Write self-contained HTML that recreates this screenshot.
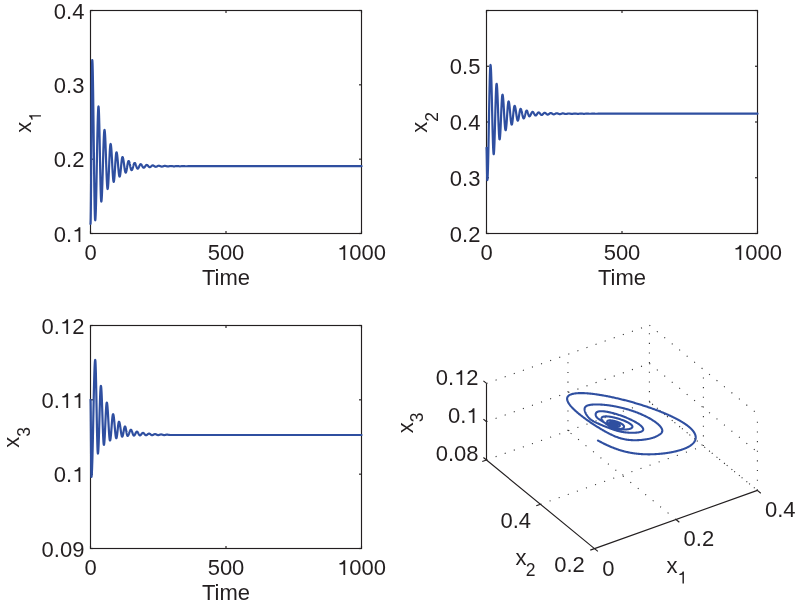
<!DOCTYPE html>
<html><head><meta charset="utf-8"><style>
html,body{margin:0;padding:0;background:#fff;}
body{width:795px;height:605px;overflow:hidden;}
svg{display:block;will-change:transform;}
</style></head><body>
<svg width="795" height="605" viewBox="0 0 795 605">
<rect width="795" height="605" fill="#fff"/>
<g stroke="#231f20" stroke-width="1.15" fill="none">
<line x1="90.5" y1="233.50000000000006" x2="93.0" y2="233.50000000000006"/>
<line x1="361.5" y1="233.50000000000006" x2="359.0" y2="233.50000000000006"/>
<line x1="90.5" y1="159.16666666666669" x2="93.0" y2="159.16666666666669"/>
<line x1="361.5" y1="159.16666666666669" x2="359.0" y2="159.16666666666669"/>
<line x1="90.5" y1="84.83333333333337" x2="93.0" y2="84.83333333333337"/>
<line x1="361.5" y1="84.83333333333337" x2="359.0" y2="84.83333333333337"/>
<line x1="90.5" y1="10.5" x2="93.0" y2="10.5"/>
<line x1="361.5" y1="10.5" x2="359.0" y2="10.5"/>
<line x1="90.5" y1="233.5" x2="90.5" y2="231.0"/>
<line x1="90.5" y1="10.5" x2="90.5" y2="13.0"/>
<line x1="226.0" y1="233.5" x2="226.0" y2="231.0"/>
<line x1="226.0" y1="10.5" x2="226.0" y2="13.0"/>
<line x1="361.5" y1="233.5" x2="361.5" y2="231.0"/>
<line x1="361.5" y1="10.5" x2="361.5" y2="13.0"/>
<rect x="90.5" y="10.5" width="271.0" height="223.0" fill="none"/>
<line x1="486.5" y1="233.49999999999997" x2="489.0" y2="233.49999999999997"/>
<line x1="757.5" y1="233.49999999999997" x2="755.0" y2="233.49999999999997"/>
<line x1="486.5" y1="177.74999999999997" x2="489.0" y2="177.74999999999997"/>
<line x1="757.5" y1="177.74999999999997" x2="755.0" y2="177.74999999999997"/>
<line x1="486.5" y1="121.99999999999997" x2="489.0" y2="121.99999999999997"/>
<line x1="757.5" y1="121.99999999999997" x2="755.0" y2="121.99999999999997"/>
<line x1="486.5" y1="66.24999999999999" x2="489.0" y2="66.24999999999999"/>
<line x1="757.5" y1="66.24999999999999" x2="755.0" y2="66.24999999999999"/>
<line x1="486.5" y1="10.5" x2="489.0" y2="10.5"/>
<line x1="757.5" y1="10.5" x2="755.0" y2="10.5"/>
<line x1="486.5" y1="233.5" x2="486.5" y2="231.0"/>
<line x1="486.5" y1="10.5" x2="486.5" y2="13.0"/>
<line x1="622.0" y1="233.5" x2="622.0" y2="231.0"/>
<line x1="622.0" y1="10.5" x2="622.0" y2="13.0"/>
<line x1="757.5" y1="233.5" x2="757.5" y2="231.0"/>
<line x1="757.5" y1="10.5" x2="757.5" y2="13.0"/>
<rect x="486.5" y="10.5" width="271.0" height="223.0" fill="none"/>
<line x1="90.5" y1="548.5" x2="93.0" y2="548.5"/>
<line x1="361.5" y1="548.5" x2="359.0" y2="548.5"/>
<line x1="90.5" y1="474.16666666666663" x2="93.0" y2="474.16666666666663"/>
<line x1="361.5" y1="474.16666666666663" x2="359.0" y2="474.16666666666663"/>
<line x1="90.5" y1="399.8333333333333" x2="93.0" y2="399.8333333333333"/>
<line x1="361.5" y1="399.8333333333333" x2="359.0" y2="399.8333333333333"/>
<line x1="90.5" y1="325.5" x2="93.0" y2="325.5"/>
<line x1="361.5" y1="325.5" x2="359.0" y2="325.5"/>
<line x1="90.5" y1="548.5" x2="90.5" y2="546.0"/>
<line x1="90.5" y1="325.5" x2="90.5" y2="328.0"/>
<line x1="226.0" y1="548.5" x2="226.0" y2="546.0"/>
<line x1="226.0" y1="325.5" x2="226.0" y2="328.0"/>
<line x1="361.5" y1="548.5" x2="361.5" y2="546.0"/>
<line x1="361.5" y1="325.5" x2="361.5" y2="328.0"/>
<rect x="90.5" y="325.5" width="271.0" height="223.0" fill="none"/>
</g>
<g stroke="#2f4fa0" stroke-width="2.2" fill="none" stroke-linejoin="round" stroke-linecap="round">
<path d="M90.50 223.80L90.54 223.55L90.59 222.79L90.63 221.54L90.67 219.79L90.72 217.57L90.76 214.87L90.81 211.73L90.85 208.16L90.89 204.18L90.94 199.81L90.98 195.09L91.03 190.04L91.07 184.69L91.11 179.08L91.16 173.24L91.20 167.21L91.24 161.02L91.29 154.71L91.33 148.33L91.38 141.90L91.42 135.47L91.46 129.09L91.51 122.78L91.55 116.59L91.59 110.56L91.64 104.72L91.68 99.11L91.72 93.76L91.77 88.71L91.81 83.99L91.86 79.62L91.90 75.64L91.94 72.07L91.99 68.93L92.03 66.23L92.08 64.01L92.12 62.26L92.16 61.01L92.21 60.25L92.25 60.00L92.32 60.25L92.40 60.99L92.47 62.21L92.55 63.92L92.62 66.10L92.69 68.74L92.77 71.81L92.84 75.31L92.91 79.20L92.99 83.48L93.06 88.10L93.14 93.04L93.21 98.27L93.28 103.76L93.36 109.48L93.43 115.38L93.50 121.44L93.58 127.61L93.65 133.86L93.72 140.15L93.80 146.44L93.87 152.69L93.95 158.86L94.02 164.92L94.09 170.82L94.17 176.54L94.24 182.03L94.31 187.26L94.39 192.20L94.46 196.82L94.54 201.10L94.61 204.99L94.68 208.49L94.76 211.56L94.83 214.20L94.91 216.38L94.98 218.09L95.05 219.31L95.13 220.05L95.20 220.30L95.28 220.12L95.37 219.60L95.45 218.73L95.53 217.52L95.61 215.97L95.70 214.10L95.78 211.92L95.86 209.43L95.94 206.67L96.03 203.63L96.11 200.35L96.19 196.84L96.27 193.13L96.36 189.23L96.44 185.17L96.52 180.98L96.60 176.68L96.69 172.30L96.77 167.86L96.85 163.40L96.93 158.94L97.02 154.50L97.10 150.12L97.18 145.82L97.26 141.63L97.34 137.57L97.43 133.67L97.51 129.96L97.59 126.45L97.67 123.17L97.76 120.13L97.84 117.37L97.92 114.88L98.00 112.70L98.09 110.83L98.17 109.28L98.25 108.07L98.33 107.20L98.42 106.68L98.50 106.50L98.57 106.65L98.64 107.08L98.71 107.81L98.78 108.82L98.85 110.12L98.92 111.68L98.99 113.50L99.06 115.57L99.13 117.88L99.20 120.41L99.27 123.15L99.34 126.08L99.41 129.18L99.48 132.44L99.55 135.82L99.62 139.32L99.69 142.91L99.76 146.57L99.83 150.27L99.90 154.00L99.97 157.73L100.04 161.43L100.11 165.09L100.18 168.68L100.25 172.18L100.32 175.56L100.39 178.82L100.46 181.92L100.53 184.85L100.60 187.59L100.67 190.12L100.74 192.43L100.81 194.50L100.88 196.32L100.95 197.88L101.02 199.18L101.09 200.19L101.16 200.92L101.23 201.35L101.30 201.50L101.38 201.39L101.46 201.06L101.54 200.51L101.62 199.75L101.70 198.78L101.78 197.60L101.86 196.23L101.94 194.67L102.02 192.93L102.10 191.03L102.18 188.97L102.26 186.76L102.34 184.43L102.42 181.98L102.50 179.43L102.58 176.80L102.66 174.10L102.74 171.34L102.82 168.55L102.90 165.75L102.98 162.95L103.06 160.16L103.14 157.40L103.22 154.70L103.30 152.07L103.38 149.52L103.46 147.07L103.54 144.74L103.62 142.53L103.70 140.47L103.78 138.57L103.86 136.83L103.94 135.27L104.02 133.90L104.10 132.72L104.18 131.75L104.26 130.99L104.34 130.44L104.42 130.11L104.50 130.00L104.58 130.09L104.66 130.36L104.73 130.82L104.81 131.44L104.89 132.25L104.97 133.22L105.04 134.35L105.12 135.63L105.20 137.07L105.28 138.64L105.35 140.34L105.43 142.16L105.51 144.09L105.58 146.11L105.66 148.21L105.74 150.38L105.82 152.61L105.89 154.89L105.97 157.19L106.05 159.50L106.13 161.81L106.20 164.11L106.28 166.39L106.36 168.62L106.44 170.79L106.52 172.89L106.59 174.91L106.67 176.84L106.75 178.66L106.82 180.36L106.90 181.93L106.98 183.37L107.06 184.65L107.13 185.78L107.21 186.75L107.29 187.56L107.37 188.18L107.44 188.64L107.52 188.91L107.60 189.00L107.67 188.93L107.75 188.72L107.82 188.38L107.90 187.90L107.97 187.29L108.05 186.55L108.12 185.68L108.20 184.70L108.27 183.61L108.35 182.41L108.42 181.11L108.50 179.73L108.57 178.26L108.65 176.71L108.72 175.11L108.80 173.45L108.88 171.75L108.95 170.02L109.02 168.27L109.10 166.50L109.17 164.73L109.25 162.98L109.32 161.25L109.40 159.55L109.47 157.89L109.55 156.29L109.62 154.74L109.70 153.27L109.77 151.89L109.85 150.59L109.92 149.39L110.00 148.30L110.07 147.32L110.15 146.45L110.22 145.71L110.30 145.10L110.38 144.62L110.45 144.28L110.52 144.07L110.60 144.00L110.68 144.06L110.75 144.23L110.83 144.52L110.91 144.93L110.99 145.44L111.06 146.06L111.14 146.79L111.22 147.61L111.30 148.53L111.38 149.54L111.45 150.63L111.53 151.79L111.61 153.02L111.69 154.32L111.76 155.67L111.84 157.06L111.92 158.49L112.00 159.94L112.07 161.42L112.15 162.90L112.23 164.38L112.30 165.86L112.38 167.31L112.46 168.74L112.54 170.13L112.61 171.48L112.69 172.78L112.77 174.01L112.85 175.17L112.92 176.26L113.00 177.27L113.08 178.19L113.16 179.01L113.23 179.74L113.31 180.36L113.39 180.87L113.47 181.28L113.55 181.57L113.62 181.74L113.70 181.80L113.77 181.75L113.84 181.62L113.91 181.39L113.98 181.08L114.05 180.68L114.12 180.19L114.19 179.63L114.26 178.98L114.33 178.27L114.40 177.48L114.47 176.63L114.54 175.72L114.61 174.76L114.68 173.75L114.75 172.69L114.82 171.61L114.89 170.49L114.96 169.36L115.03 168.21L115.10 167.05L115.17 165.89L115.24 164.74L115.31 163.61L115.38 162.49L115.45 161.41L115.52 160.35L115.59 159.34L115.66 158.38L115.73 157.47L115.80 156.62L115.87 155.83L115.94 155.12L116.01 154.47L116.08 153.91L116.15 153.42L116.22 153.02L116.29 152.71L116.36 152.48L116.43 152.35L116.50 152.30L116.58 152.34L116.66 152.45L116.73 152.64L116.81 152.89L116.89 153.22L116.97 153.62L117.04 154.09L117.12 154.62L117.20 155.21L117.28 155.86L117.35 156.56L117.43 157.31L117.51 158.10L117.58 158.93L117.66 159.80L117.74 160.70L117.82 161.61L117.89 162.55L117.97 163.50L118.05 164.45L118.13 165.40L118.20 166.35L118.28 167.29L118.36 168.20L118.44 169.10L118.52 169.97L118.59 170.80L118.67 171.59L118.75 172.34L118.82 173.04L118.90 173.69L118.98 174.28L119.06 174.81L119.13 175.28L119.21 175.68L119.29 176.01L119.37 176.26L119.44 176.45L119.52 176.56L119.60 176.60L119.67 176.57L119.74 176.48L119.82 176.33L119.89 176.12L119.96 175.86L120.03 175.54L120.11 175.16L120.18 174.74L120.25 174.26L120.32 173.74L120.40 173.18L120.47 172.58L120.54 171.94L120.61 171.28L120.69 170.58L120.76 169.86L120.83 169.13L120.91 168.38L120.98 167.61L121.05 166.85L121.12 166.09L121.19 165.32L121.27 164.57L121.34 163.84L121.41 163.12L121.48 162.42L121.56 161.76L121.63 161.12L121.70 160.52L121.78 159.96L121.85 159.44L121.92 158.96L121.99 158.54L122.06 158.16L122.14 157.84L122.21 157.58L122.28 157.37L122.36 157.22L122.43 157.13L122.50 157.10L122.58 157.12L122.66 157.20L122.74 157.31L122.82 157.48L122.90 157.69L122.98 157.94L123.06 158.24L123.14 158.58L123.22 158.96L123.30 159.37L123.38 159.82L123.46 160.29L123.54 160.80L123.62 161.33L123.70 161.88L123.78 162.46L123.86 163.04L123.94 163.64L124.02 164.24L124.10 164.85L124.18 165.46L124.26 166.06L124.34 166.66L124.42 167.24L124.50 167.82L124.58 168.37L124.66 168.90L124.74 169.41L124.82 169.88L124.90 170.33L124.98 170.74L125.06 171.12L125.14 171.46L125.22 171.76L125.30 172.01L125.38 172.22L125.46 172.39L125.54 172.50L125.62 172.58L125.70 172.60L125.77 172.58L125.84 172.53L125.92 172.44L125.99 172.32L126.06 172.16L126.14 171.97L126.21 171.75L126.28 171.49L126.35 171.21L126.42 170.90L126.50 170.57L126.57 170.21L126.64 169.83L126.72 169.43L126.79 169.02L126.86 168.59L126.93 168.15L127.00 167.71L127.08 167.26L127.15 166.80L127.22 166.34L127.30 165.89L127.37 165.45L127.44 165.01L127.51 164.58L127.58 164.17L127.66 163.77L127.73 163.39L127.80 163.03L127.88 162.70L127.95 162.39L128.02 162.11L128.09 161.85L128.16 161.63L128.24 161.44L128.31 161.28L128.38 161.16L128.45 161.07L128.53 161.02L128.60 161.00L128.68 161.01L128.75 161.06L128.83 161.13L128.90 161.22L128.98 161.35L129.05 161.50L129.13 161.68L129.20 161.88L129.28 162.10L129.35 162.34L129.43 162.61L129.51 162.89L129.58 163.19L129.66 163.50L129.73 163.83L129.81 164.17L129.88 164.51L129.96 164.87L130.03 165.22L130.11 165.58L130.19 165.94L130.26 166.30L130.34 166.65L130.41 167.00L130.49 167.34L130.56 167.67L130.64 167.98L130.71 168.28L130.79 168.56L130.87 168.83L130.94 169.07L131.02 169.29L131.09 169.49L131.17 169.67L131.24 169.82L131.32 169.94L131.39 170.04L131.47 170.11L131.54 170.15L131.62 170.17L131.70 170.16L131.77 170.12L131.85 170.07L131.92 169.99L132.00 169.89L132.07 169.78L132.15 169.64L132.22 169.48L132.30 169.31L132.38 169.11L132.45 168.91L132.53 168.69L132.60 168.45L132.68 168.20L132.75 167.95L132.83 167.68L132.90 167.41L132.98 167.13L133.05 166.85L133.13 166.57L133.21 166.29L133.28 166.01L133.36 165.73L133.43 165.46L133.51 165.20L133.58 164.94L133.66 164.69L133.73 164.46L133.81 164.24L133.89 164.03L133.96 163.84L134.04 163.66L134.11 163.51L134.19 163.37L134.26 163.25L134.34 163.15L134.41 163.08L134.49 163.02L134.56 162.99L134.64 162.98L134.72 162.98L134.79 163.01L134.87 163.05L134.94 163.12L135.02 163.19L135.09 163.29L135.17 163.39L135.24 163.52L135.32 163.66L135.40 163.81L135.47 163.97L135.55 164.15L135.62 164.33L135.70 164.53L135.77 164.73L135.85 164.94L135.92 165.15L136.00 165.37L136.07 165.60L136.15 165.82L136.23 166.04L136.30 166.26L136.38 166.48L136.45 166.70L136.53 166.91L136.60 167.11L136.68 167.30L136.75 167.49L136.83 167.66L136.91 167.83L136.98 167.98L137.06 168.12L137.13 168.24L137.21 168.35L137.28 168.44L137.36 168.52L137.43 168.58L137.51 168.63L137.58 168.65L137.66 168.66L137.74 168.65L137.81 168.63L137.89 168.60L137.96 168.55L138.04 168.49L138.11 168.42L138.19 168.33L138.26 168.23L138.34 168.13L138.42 168.01L138.49 167.88L138.57 167.74L138.64 167.60L138.72 167.44L138.79 167.28L138.87 167.12L138.94 166.95L139.02 166.78L139.09 166.61L139.17 166.43L139.25 166.26L139.32 166.08L139.40 165.91L139.47 165.74L139.55 165.58L139.62 165.42L139.70 165.27L139.77 165.12L139.85 164.98L139.93 164.85L140.00 164.74L140.08 164.63L140.15 164.53L140.23 164.44L140.30 164.37L140.38 164.31L140.45 164.26L140.53 164.23L140.60 164.21L140.68 164.20L140.76 164.21L140.83 164.22L140.91 164.25L140.98 164.29L141.06 164.34L141.13 164.39L141.21 164.46L141.28 164.54L141.36 164.62L141.44 164.72L141.51 164.82L141.59 164.93L141.66 165.04L141.74 165.16L141.81 165.29L141.89 165.42L141.96 165.55L142.04 165.69L142.11 165.82L142.19 165.96L142.27 166.10L142.34 166.24L142.42 166.37L142.49 166.51L142.57 166.64L142.64 166.76L142.72 166.88L142.79 167.00L142.87 167.11L142.95 167.21L143.02 167.30L143.10 167.39L143.17 167.47L143.25 167.53L143.32 167.59L143.40 167.64L143.47 167.68L143.55 167.70L143.62 167.72L143.70 167.73L143.78 167.72L143.85 167.71L143.93 167.69L144.00 167.66L144.08 167.62L144.15 167.57L144.23 167.52L144.30 167.46L144.38 167.39L144.46 167.32L144.53 167.24L144.61 167.16L144.68 167.07L144.76 166.97L144.83 166.87L144.91 166.77L144.98 166.67L145.06 166.56L145.13 166.45L145.21 166.34L145.29 166.23L145.36 166.13L145.44 166.02L145.51 165.92L145.59 165.81L145.66 165.72L145.74 165.62L145.81 165.53L145.89 165.45L145.97 165.37L146.04 165.29L146.12 165.22L146.19 165.16L146.27 165.11L146.34 165.07L146.42 165.03L146.49 165.00L146.57 164.98L146.64 164.96L146.72 164.96L146.80 164.96L146.87 164.97L146.95 164.99L147.02 165.01L147.10 165.04L147.17 165.08L147.25 165.12L147.32 165.17L147.40 165.22L147.48 165.28L147.55 165.34L147.63 165.41L147.70 165.48L147.78 165.56L147.85 165.64L147.93 165.72L148.00 165.80L148.08 165.88L148.15 165.97L148.23 166.05L148.31 166.14L148.38 166.22L148.46 166.31L148.53 166.39L148.61 166.47L148.68 166.55L148.76 166.62L148.83 166.70L148.91 166.76L148.99 166.83L149.06 166.88L149.14 166.94L149.21 166.98L149.29 167.03L149.36 167.06L149.44 167.09L149.51 167.12L149.59 167.13L149.66 167.14L149.74 167.15L149.82 167.14L149.89 167.14L149.97 167.12L150.04 167.10L150.12 167.08L150.19 167.05L150.27 167.02L150.34 166.98L150.42 166.94L150.50 166.89L150.57 166.85L150.65 166.79L150.72 166.74L150.80 166.68L150.87 166.62L150.95 166.55L151.02 166.49L151.10 166.42L151.17 166.36L151.25 166.29L151.33 166.22L151.40 166.15L151.48 166.09L151.55 166.02L151.63 165.96L151.70 165.90L151.78 165.84L151.85 165.78L151.93 165.73L152.01 165.68L152.08 165.64L152.16 165.60L152.23 165.56L152.31 165.53L152.38 165.50L152.46 165.47L152.53 165.46L152.61 165.44L152.68 165.43L152.76 165.43L152.84 165.43L152.91 165.44L152.99 165.45L153.06 165.46L153.14 165.48L153.21 165.51L153.29 165.53L153.36 165.56L153.44 165.59L153.52 165.63L153.59 165.67L153.67 165.71L153.74 165.76L153.82 165.80L153.89 165.85L153.97 165.90L154.04 165.95L154.12 166.00L154.19 166.06L154.27 166.11L154.35 166.16L154.42 166.21L154.50 166.27L154.57 166.32L154.65 166.37L154.72 166.42L154.80 166.46L154.87 166.51L154.95 166.55L155.03 166.59L155.10 166.62L155.18 166.66L155.25 166.69L155.33 166.71L155.40 166.73L155.48 166.75L155.55 166.77L155.63 166.78L155.70 166.78L155.78 166.79L155.86 166.78L155.93 166.78L156.01 166.77L156.08 166.76L156.16 166.75L156.23 166.73L156.31 166.71L156.38 166.68L156.46 166.66L156.54 166.63L156.61 166.60L156.69 166.57L156.76 166.53L156.84 166.50L156.91 166.46L156.99 166.42L157.06 166.38L157.14 166.34L157.21 166.30L157.29 166.25L157.37 166.21L157.44 166.17L157.52 166.13L157.59 166.09L157.67 166.05L157.74 166.01L157.82 165.98L157.89 165.94L157.97 165.91L158.05 165.88L158.12 165.85L158.20 165.83L158.27 165.80L158.35 165.78L158.42 165.76L158.50 165.75L158.57 165.74L158.65 165.73L158.72 165.73L158.80 165.72L158.88 165.72L158.95 165.73L159.03 165.74L159.10 165.74L159.18 165.76L159.25 165.77L159.33 165.79L159.40 165.80L159.48 165.82L159.56 165.85L159.63 165.87L159.71 165.90L159.78 165.92L159.86 165.95L159.93 165.98L160.01 166.01L160.08 166.05L160.16 166.08L160.23 166.11L160.31 166.14L160.39 166.18L160.46 166.21L160.54 166.24L160.61 166.27L160.69 166.30L160.76 166.33L160.84 166.36L160.91 166.39L160.99 166.42L161.07 166.44L161.14 166.46L161.22 166.48L161.29 166.50L161.37 166.52L161.44 166.53L161.52 166.54L161.59 166.55L161.67 166.56L161.74 166.56L161.82 166.56L161.90 166.56L161.97 166.56L162.05 166.55L162.12 166.55L162.20 166.54L162.27 166.53L162.35 166.51L162.42 166.50L162.50 166.48L162.58 166.47L162.65 166.45L162.73 166.43L162.80 166.41L162.88 166.38L162.95 166.36L163.03 166.34L163.10 166.31L163.18 166.29L163.25 166.26L163.33 166.23L163.41 166.21L163.48 166.18L163.56 166.16L163.63 166.13L163.71 166.11L163.78 166.08L163.86 166.06L163.93 166.04L164.01 166.02L164.09 166.00L164.16 165.98L164.24 165.97L164.31 165.95L164.39 165.94L164.46 165.93L164.54 165.92L164.61 165.91L164.69 165.91L164.76 165.91L164.84 165.90L164.92 165.91L164.99 165.91L165.07 165.91L165.14 165.92L165.22 165.92L165.29 165.93L165.37 165.94L165.44 165.95L165.52 165.97L165.60 165.98L165.67 166.00L165.75 166.01L165.82 166.03L165.90 166.05L165.97 166.07L166.05 166.08L166.12 166.10L166.20 166.12L166.27 166.14L166.35 166.17L166.43 166.19L166.50 166.21L166.58 166.23L166.65 166.25L166.73 166.26L166.80 166.28L166.88 166.30L166.95 166.32L167.03 166.33L167.11 166.35L167.18 166.36L167.26 166.38L167.33 166.39L167.41 166.40L167.48 166.41L167.56 166.41L167.63 166.42L167.71 166.42L167.78 166.42L167.86 166.43L167.94 166.42L168.01 166.42L168.09 166.42L168.16 166.42L168.24 166.41L168.31 166.40L168.39 166.40L168.46 166.39L168.54 166.38L168.62 166.37L168.69 166.35L168.77 166.34L168.84 166.33L168.92 166.31L168.99 166.30L169.07 166.28L169.14 166.27L169.22 166.25L169.29 166.24L169.37 166.22L169.45 166.21L169.52 166.19L169.60 166.17L169.67 166.16L169.75 166.14L169.82 166.13L169.90 166.11L169.97 166.10L170.05 166.09L170.13 166.08L170.20 166.07L170.28 166.06L170.35 166.05L170.43 166.04L170.50 166.03L170.58 166.03L170.65 166.02L170.73 166.02L170.80 166.02L170.88 166.02L170.96 166.02L171.03 166.02L171.11 166.02L171.18 166.02L171.26 166.03L171.33 166.03L171.41 166.04L171.48 166.05L171.56 166.06L171.64 166.06L171.71 166.07L171.79 166.08L171.86 166.09L171.94 166.11L172.01 166.12L172.09 166.13L172.16 166.14L172.24 166.15L172.31 166.17L172.39 166.18L172.47 166.19L172.54 166.20L172.62 166.22L172.69 166.23L172.77 166.24L172.84 166.25L172.92 166.26L172.99 166.27L173.07 166.28L173.15 166.29L173.22 166.30L173.30 166.31L173.37 166.32L173.45 166.32L173.52 166.33L173.60 166.33L173.67 166.34L173.75 166.34L173.82 166.34L173.90 166.34L173.98 166.34L174.05 166.34L174.13 166.34L174.20 166.33L174.28 166.33L174.35 166.33L174.43 166.32L174.50 166.32L174.58 166.31L174.66 166.30L174.73 166.30L174.81 166.29L174.88 166.28L174.96 166.27L175.03 166.26L175.11 166.25L175.18 166.24L175.26 166.23L175.33 166.22L175.41 166.21L175.49 166.20L175.56 166.19L175.64 166.18L175.71 166.17L175.79 166.16L175.86 166.16L175.94 166.15L176.01 166.14L176.09 166.13L176.17 166.12L176.24 166.12L176.32 166.11L176.39 166.11L176.47 166.10L176.54 166.10L176.62 166.09L176.69 166.09L176.77 166.09L176.84 166.09L176.92 166.09L177.00 166.09L177.07 166.09L177.15 166.09L177.22 166.09L177.30 166.09L177.37 166.10L177.45 166.10L177.52 166.11L177.60 166.11L177.68 166.12L177.75 166.12L177.83 166.13L177.90 166.13L177.98 166.14L178.05 166.15L178.13 166.16L178.20 166.16L178.28 166.17L178.35 166.18L178.43 166.19L178.51 166.19L178.58 166.20L178.66 166.21L178.73 166.22L178.81 166.22L178.88 166.23L178.96 166.24L179.03 166.25L179.11 166.25L179.19 166.26L179.26 166.26L179.34 166.27L179.41 166.27L179.49 166.28L179.56 166.28L179.64 166.28L179.71 166.28L179.79 166.29L179.86 166.29L179.94 166.29L180.02 166.29L180.09 166.29L180.17 166.28L180.24 166.28L180.32 166.28L180.39 166.28L180.47 166.28L180.54 166.27L180.62 166.27L180.70 166.26L180.77 166.26L180.85 166.25L180.92 166.25L181.00 166.24L181.07 166.24L181.15 166.23L181.22 166.23L181.30 166.22L181.37 166.21L181.45 166.21L181.53 166.20L181.60 166.20L181.68 166.19L181.75 166.18L181.83 166.18L181.90 166.17L181.98 166.17L182.05 166.16L182.13 166.16L182.21 166.15L182.28 166.15L182.36 166.14L182.43 166.14L182.51 166.14L182.58 166.14L182.66 166.13L182.73 166.13L182.81 166.13L182.88 166.13L182.96 166.13L183.04 166.13L183.11 166.13L183.19 166.13L183.26 166.13L183.34 166.13L183.41 166.14L183.49 166.14L183.56 166.14L183.64 166.14L183.72 166.15L183.79 166.15L183.87 166.16L183.94 166.16L184.02 166.16L184.09 166.17L184.17 166.17L184.24 166.18L184.32 166.18L184.39 166.19L184.47 166.19L184.55 166.20L184.62 166.20L184.70 166.21L184.77 166.21L184.85 166.22L184.92 166.22L185.00 166.22L185.07 166.23L185.15 166.23L185.23 166.24L185.30 166.24L185.38 166.24L185.45 166.24L185.53 166.25L185.60 166.25L185.68 166.25L185.75 166.25L185.83 166.25L185.90 166.25L185.98 166.25L186.06 166.25L186.13 166.25L186.21 166.25L186.28 166.25L186.36 166.25L186.43 166.25L186.51 166.25L186.58 166.25L186.66 166.25L186.74 166.25L186.81 166.24L186.89 166.24L186.96 166.24L187.04 166.24L187.11 166.24L187.19 166.24L187.26 166.23L187.34 166.23L187.41 166.23L187.49 166.23L187.57 166.22L187.64 166.22L187.72 166.22L187.79 166.22L187.87 166.22L187.94 166.21L188.02 166.21L188.09 166.21L188.17 166.21L188.25 166.21L188.32 166.21L188.40 166.21L188.47 166.20L188.55 166.20L188.62 166.20L188.70 166.20L188.77 166.20L188.85 166.20L188.92 166.20L189.00 166.20L361.50 166.20"/>
<path d="M486.50 147.90L486.52 147.95L486.54 148.10L486.56 148.34L486.58 148.69L486.60 149.12L486.62 149.65L486.64 150.27L486.66 150.97L486.68 151.75L486.70 152.60L486.72 153.53L486.74 154.52L486.76 155.56L486.78 156.66L486.80 157.81L486.82 158.99L486.84 160.20L486.86 161.44L486.88 162.69L486.90 163.95L486.92 165.21L486.94 166.46L486.96 167.70L486.98 168.91L487.00 170.09L487.02 171.24L487.04 172.34L487.06 173.38L487.08 174.37L487.10 175.30L487.12 176.15L487.14 176.93L487.16 177.63L487.18 178.25L487.20 178.78L487.22 179.21L487.24 179.56L487.26 179.80L487.28 179.95L487.30 180.00L487.38 179.82L487.46 179.29L487.54 178.41L487.62 177.19L487.70 175.62L487.78 173.73L487.86 171.53L487.94 169.02L488.02 166.22L488.10 163.16L488.18 159.84L488.26 156.30L488.34 152.54L488.42 148.60L488.50 144.50L488.58 140.27L488.66 135.92L488.74 131.49L488.82 127.01L488.90 122.50L488.98 117.99L489.06 113.51L489.14 109.08L489.22 104.73L489.30 100.50L489.38 96.40L489.46 92.46L489.54 88.70L489.62 85.16L489.70 81.84L489.78 78.78L489.86 75.98L489.94 73.47L490.02 71.27L490.10 69.38L490.18 67.81L490.26 66.59L490.34 65.71L490.42 65.18L490.50 65.00L490.58 65.14L490.66 65.55L490.74 66.23L490.82 67.18L490.90 68.39L490.98 69.86L491.06 71.57L491.14 73.52L491.22 75.69L491.30 78.06L491.38 80.63L491.46 83.38L491.54 86.30L491.62 89.35L491.70 92.53L491.78 95.82L491.86 99.19L491.94 102.62L492.02 106.10L492.10 109.60L492.18 113.10L492.26 116.58L492.34 120.01L492.42 123.38L492.50 126.67L492.58 129.85L492.66 132.90L492.74 135.82L492.82 138.57L492.90 141.14L492.98 143.51L493.06 145.68L493.14 147.63L493.22 149.34L493.30 150.81L493.38 152.02L493.46 152.97L493.54 153.65L493.62 154.06L493.70 154.20L493.77 154.09L493.84 153.77L493.92 153.23L493.99 152.48L494.06 151.52L494.13 150.36L494.21 149.01L494.28 147.48L494.35 145.77L494.43 143.89L494.50 141.86L494.57 139.69L494.64 137.39L494.71 134.98L494.79 132.47L494.86 129.88L494.93 127.22L495.00 124.51L495.08 121.76L495.15 119.00L495.22 116.24L495.30 113.49L495.37 110.78L495.44 108.12L495.51 105.53L495.59 103.02L495.66 100.61L495.73 98.31L495.80 96.14L495.88 94.11L495.95 92.23L496.02 90.52L496.09 88.99L496.17 87.64L496.24 86.48L496.31 85.52L496.38 84.77L496.46 84.23L496.53 83.91L496.60 83.80L496.68 83.89L496.75 84.14L496.83 84.57L496.90 85.16L496.98 85.92L497.05 86.83L497.12 87.90L497.20 89.11L497.28 90.46L497.35 91.94L497.43 93.55L497.50 95.26L497.58 97.07L497.65 98.98L497.73 100.96L497.80 103.01L497.88 105.11L497.95 107.25L498.03 109.42L498.10 111.60L498.18 113.78L498.25 115.95L498.33 118.09L498.40 120.19L498.48 122.24L498.55 124.22L498.62 126.13L498.70 127.94L498.78 129.65L498.85 131.26L498.93 132.74L499.00 134.09L499.08 135.30L499.15 136.37L499.23 137.28L499.30 138.04L499.38 138.63L499.45 139.06L499.53 139.31L499.60 139.40L499.67 139.33L499.75 139.12L499.82 138.78L499.89 138.31L499.96 137.70L500.04 136.96L500.11 136.11L500.18 135.13L500.25 134.05L500.33 132.85L500.40 131.57L500.47 130.19L500.54 128.73L500.62 127.20L500.69 125.60L500.76 123.96L500.83 122.27L500.91 120.55L500.98 118.80L501.05 117.05L501.12 115.30L501.19 113.55L501.27 111.83L501.34 110.14L501.41 108.50L501.49 106.90L501.56 105.37L501.63 103.91L501.70 102.53L501.77 101.25L501.85 100.05L501.92 98.97L501.99 97.99L502.06 97.14L502.14 96.40L502.21 95.79L502.28 95.32L502.36 94.98L502.43 94.77L502.50 94.70L502.58 94.75L502.65 94.92L502.73 95.19L502.81 95.57L502.89 96.05L502.97 96.63L503.04 97.32L503.12 98.09L503.20 98.95L503.27 99.90L503.35 100.92L503.43 102.02L503.51 103.18L503.59 104.39L503.66 105.66L503.74 106.96L503.82 108.31L503.89 109.67L503.97 111.06L504.05 112.45L504.13 113.84L504.21 115.23L504.28 116.59L504.36 117.94L504.44 119.24L504.51 120.51L504.59 121.72L504.67 122.88L504.75 123.98L504.83 125.00L504.90 125.95L504.98 126.81L505.06 127.58L505.13 128.27L505.21 128.85L505.29 129.33L505.37 129.71L505.45 129.98L505.52 130.15L505.60 130.20L505.68 130.16L505.75 130.02L505.83 129.80L505.90 129.50L505.98 129.10L506.05 128.63L506.12 128.08L506.20 127.45L506.28 126.75L506.35 125.98L506.43 125.15L506.50 124.26L506.58 123.32L506.65 122.34L506.73 121.31L506.80 120.25L506.88 119.16L506.95 118.05L507.03 116.93L507.10 115.80L507.18 114.67L507.25 113.55L507.33 112.44L507.40 111.35L507.48 110.29L507.55 109.26L507.62 108.28L507.70 107.34L507.78 106.45L507.85 105.62L507.93 104.85L508.00 104.15L508.08 103.52L508.15 102.97L508.23 102.50L508.30 102.10L508.38 101.80L508.45 101.58L508.53 101.44L508.60 101.40L508.68 101.44L508.75 101.54L508.83 101.72L508.91 101.97L508.99 102.28L509.06 102.66L509.14 103.11L509.22 103.62L509.30 104.18L509.38 104.80L509.45 105.47L509.53 106.18L509.61 106.94L509.69 107.73L509.76 108.56L509.84 109.42L509.92 110.29L510.00 111.19L510.07 112.09L510.15 113.00L510.23 113.91L510.31 114.81L510.38 115.71L510.46 116.58L510.54 117.44L510.62 118.27L510.69 119.06L510.77 119.82L510.85 120.53L510.93 121.20L511.00 121.82L511.08 122.38L511.16 122.89L511.24 123.34L511.31 123.72L511.39 124.03L511.47 124.28L511.55 124.46L511.62 124.56L511.70 124.60L511.77 124.57L511.84 124.48L511.92 124.34L511.99 124.14L512.06 123.89L512.13 123.58L512.21 123.22L512.28 122.81L512.35 122.36L512.42 121.86L512.50 121.32L512.57 120.75L512.64 120.14L512.72 119.49L512.79 118.83L512.86 118.14L512.93 117.43L513.00 116.71L513.08 115.98L513.15 115.25L513.22 114.52L513.29 113.79L513.37 113.07L513.44 112.36L513.51 111.67L513.59 111.01L513.66 110.36L513.73 109.75L513.80 109.18L513.88 108.64L513.95 108.14L514.02 107.69L514.09 107.28L514.16 106.92L514.24 106.61L514.31 106.36L514.38 106.16L514.46 106.02L514.53 105.93L514.60 105.90L514.68 105.92L514.76 105.99L514.84 106.10L514.92 106.26L515.00 106.46L515.08 106.70L515.16 106.98L515.24 107.30L515.32 107.66L515.40 108.05L515.48 108.48L515.56 108.93L515.64 109.41L515.72 109.91L515.80 110.44L515.88 110.98L515.96 111.53L516.04 112.10L516.12 112.67L516.20 113.25L516.28 113.83L516.36 114.40L516.44 114.97L516.52 115.52L516.60 116.06L516.68 116.59L516.76 117.09L516.84 117.57L516.92 118.02L517.00 118.45L517.08 118.84L517.16 119.20L517.24 119.52L517.32 119.80L517.40 120.04L517.48 120.24L517.56 120.40L517.64 120.51L517.72 120.58L517.80 120.60L517.87 120.58L517.94 120.53L518.01 120.44L518.08 120.31L518.15 120.15L518.22 119.96L518.29 119.74L518.36 119.48L518.43 119.20L518.50 118.89L518.57 118.55L518.64 118.19L518.71 117.81L518.78 117.41L518.85 116.99L518.92 116.56L518.99 116.12L519.06 115.67L519.13 115.21L519.20 114.75L519.27 114.29L519.34 113.83L519.41 113.38L519.48 112.94L519.55 112.51L519.62 112.09L519.69 111.69L519.76 111.31L519.83 110.95L519.90 110.61L519.97 110.30L520.04 110.02L520.11 109.76L520.18 109.54L520.25 109.35L520.32 109.19L520.39 109.06L520.46 108.97L520.53 108.92L520.60 108.90L520.68 108.91L520.75 108.96L520.83 109.03L520.91 109.13L520.99 109.26L521.07 109.42L521.14 109.60L521.22 109.81L521.30 110.04L521.38 110.29L521.45 110.57L521.53 110.86L521.61 111.17L521.69 111.49L521.76 111.83L521.84 112.18L521.92 112.54L522.00 112.91L522.07 113.28L522.15 113.65L522.23 114.02L522.31 114.39L522.38 114.76L522.46 115.12L522.54 115.47L522.62 115.81L522.69 116.13L522.77 116.44L522.85 116.73L522.93 117.01L523.00 117.26L523.08 117.49L523.16 117.70L523.24 117.88L523.31 118.04L523.39 118.17L523.47 118.27L523.55 118.34L523.62 118.39L523.70 118.40L523.78 118.39L523.85 118.35L523.93 118.29L524.00 118.21L524.08 118.10L524.15 117.97L524.23 117.83L524.30 117.66L524.38 117.47L524.45 117.26L524.53 117.03L524.60 116.79L524.68 116.54L524.75 116.27L524.83 115.99L524.90 115.71L524.98 115.41L525.05 115.11L525.12 114.81L525.20 114.50L525.28 114.19L525.35 113.89L525.43 113.59L525.50 113.29L525.58 113.01L525.65 112.73L525.73 112.46L525.80 112.21L525.88 111.97L525.95 111.74L526.03 111.53L526.10 111.34L526.18 111.17L526.25 111.03L526.33 110.90L526.40 110.79L526.48 110.71L526.55 110.65L526.62 110.61L526.70 110.60L526.77 110.61L526.84 110.64L526.90 110.68L526.97 110.74L527.04 110.82L527.11 110.91L527.17 111.02L527.24 111.14L527.31 111.28L527.38 111.43L527.44 111.60L527.51 111.77L527.58 111.96L527.64 112.16L527.71 112.36L527.78 112.57L527.85 112.78L527.91 113.00L527.98 113.23L528.05 113.45L528.12 113.67L528.19 113.90L528.25 114.12L528.32 114.33L528.39 114.54L528.46 114.74L528.52 114.94L528.59 115.13L528.66 115.30L528.73 115.47L528.79 115.62L528.86 115.76L528.93 115.88L529.00 115.99L529.06 116.08L529.13 116.16L529.20 116.22L529.26 116.26L529.33 116.29L529.40 116.30L529.48 116.29L529.56 116.27L529.64 116.24L529.72 116.19L529.80 116.13L529.88 116.06L529.96 115.98L530.04 115.88L530.12 115.77L530.20 115.66L530.28 115.53L530.36 115.39L530.44 115.25L530.52 115.10L530.60 114.94L530.68 114.78L530.76 114.61L530.84 114.44L530.92 114.27L531.00 114.10L531.08 113.93L531.16 113.76L531.24 113.59L531.32 113.42L531.40 113.26L531.48 113.10L531.56 112.95L531.64 112.81L531.72 112.67L531.80 112.54L531.88 112.43L531.96 112.32L532.04 112.22L532.12 112.14L532.20 112.07L532.28 112.01L532.36 111.96L532.44 111.93L532.52 111.91L532.60 111.90L532.68 111.91L532.75 111.92L532.83 111.95L532.90 111.99L532.98 112.04L533.05 112.10L533.13 112.17L533.20 112.25L533.28 112.33L533.36 112.43L533.43 112.53L533.51 112.65L533.58 112.76L533.66 112.89L533.73 113.02L533.81 113.15L533.88 113.29L533.96 113.43L534.03 113.57L534.11 113.71L534.19 113.85L534.26 113.99L534.34 114.13L534.41 114.27L534.49 114.40L534.56 114.53L534.64 114.66L534.71 114.77L534.79 114.89L534.87 114.99L534.94 115.09L535.02 115.17L535.09 115.25L535.17 115.32L535.24 115.38L535.32 115.43L535.39 115.47L535.47 115.50L535.54 115.51L535.62 115.52L535.70 115.52L535.77 115.50L535.85 115.48L535.92 115.44L536.00 115.40L536.07 115.35L536.15 115.29L536.22 115.23L536.30 115.15L536.38 115.07L536.45 114.98L536.53 114.89L536.60 114.78L536.68 114.68L536.75 114.57L536.83 114.46L536.90 114.34L536.98 114.22L537.05 114.10L537.13 113.98L537.21 113.86L537.28 113.74L537.36 113.62L537.43 113.50L537.51 113.39L537.58 113.28L537.66 113.18L537.73 113.07L537.81 112.98L537.88 112.89L537.96 112.81L538.04 112.73L538.11 112.67L538.19 112.61L538.26 112.56L538.34 112.52L538.41 112.48L538.49 112.46L538.56 112.44L538.64 112.44L538.72 112.44L538.79 112.46L538.87 112.48L538.94 112.50L539.02 112.54L539.09 112.58L539.17 112.63L539.24 112.68L539.32 112.74L539.39 112.81L539.47 112.88L539.55 112.96L539.62 113.04L539.70 113.13L539.77 113.22L539.85 113.32L539.92 113.41L540.00 113.51L540.07 113.61L540.15 113.71L540.23 113.81L540.30 113.91L540.38 114.00L540.45 114.10L540.53 114.19L540.60 114.28L540.68 114.37L540.75 114.45L540.83 114.53L540.90 114.60L540.98 114.67L541.06 114.73L541.13 114.79L541.21 114.84L541.28 114.88L541.36 114.91L541.43 114.94L541.51 114.96L541.58 114.97L541.66 114.97L541.74 114.97L541.81 114.96L541.89 114.94L541.96 114.92L542.04 114.89L542.11 114.86L542.19 114.82L542.26 114.77L542.34 114.72L542.41 114.66L542.49 114.60L542.57 114.53L542.64 114.46L542.72 114.39L542.79 114.31L542.87 114.23L542.94 114.15L543.02 114.06L543.09 113.98L543.17 113.90L543.25 113.81L543.32 113.73L543.40 113.64L543.47 113.56L543.55 113.48L543.62 113.41L543.70 113.33L543.77 113.26L543.85 113.20L543.92 113.13L544.00 113.08L544.08 113.02L544.15 112.98L544.23 112.94L544.30 112.90L544.38 112.87L544.45 112.85L544.53 112.83L544.60 112.82L544.68 112.82L544.76 112.82L544.83 112.83L544.91 112.84L544.98 112.86L545.06 112.89L545.13 112.91L545.21 112.95L545.28 112.99L545.36 113.03L545.43 113.08L545.51 113.13L545.59 113.18L545.66 113.24L545.74 113.30L545.81 113.37L545.89 113.43L545.96 113.50L546.04 113.57L546.11 113.64L546.19 113.70L546.27 113.77L546.34 113.84L546.42 113.91L546.49 113.98L546.57 114.04L546.64 114.11L546.72 114.17L546.79 114.23L546.87 114.28L546.94 114.33L547.02 114.38L547.10 114.42L547.17 114.46L547.25 114.50L547.32 114.52L547.40 114.55L547.47 114.57L547.55 114.58L547.62 114.59L547.70 114.59L547.78 114.59L547.85 114.58L547.93 114.57L548.00 114.55L548.08 114.53L548.15 114.51L548.23 114.48L548.30 114.45L548.38 114.41L548.45 114.37L548.53 114.33L548.61 114.28L548.68 114.23L548.76 114.18L548.83 114.13L548.91 114.07L548.98 114.01L549.06 113.96L549.13 113.90L549.21 113.84L549.29 113.78L549.36 113.72L549.44 113.66L549.51 113.60L549.59 113.55L549.66 113.49L549.74 113.44L549.81 113.39L549.89 113.35L549.96 113.30L550.04 113.26L550.12 113.23L550.19 113.19L550.27 113.16L550.34 113.14L550.42 113.12L550.49 113.10L550.57 113.09L550.64 113.08L550.72 113.08L550.80 113.08L550.87 113.09L550.95 113.10L551.02 113.11L551.10 113.13L551.17 113.15L551.25 113.17L551.32 113.20L551.40 113.23L551.47 113.26L551.55 113.30L551.63 113.34L551.70 113.38L551.78 113.42L551.85 113.47L551.93 113.51L552.00 113.56L552.08 113.61L552.15 113.65L552.23 113.70L552.31 113.75L552.38 113.80L552.46 113.85L552.53 113.90L552.61 113.94L552.68 113.99L552.76 114.03L552.83 114.07L552.91 114.11L552.98 114.14L553.06 114.18L553.14 114.21L553.21 114.23L553.29 114.26L553.36 114.28L553.44 114.29L553.51 114.31L553.59 114.32L553.66 114.32L553.74 114.32L553.82 114.32L553.89 114.32L553.97 114.31L554.04 114.30L554.12 114.28L554.19 114.27L554.27 114.25L554.34 114.22L554.42 114.20L554.49 114.17L554.57 114.14L554.65 114.11L554.72 114.07L554.80 114.04L554.87 114.00L554.95 113.96L555.02 113.92L555.10 113.88L555.17 113.84L555.25 113.80L555.33 113.75L555.40 113.71L555.48 113.67L555.55 113.63L555.63 113.59L555.70 113.56L555.78 113.52L555.85 113.49L555.93 113.45L556.00 113.42L556.08 113.39L556.16 113.37L556.23 113.35L556.31 113.33L556.38 113.31L556.46 113.29L556.53 113.28L556.61 113.27L556.68 113.27L556.76 113.27L556.84 113.27L556.91 113.27L556.99 113.28L557.06 113.29L557.14 113.30L557.21 113.32L557.29 113.33L557.36 113.35L557.44 113.37L557.51 113.40L557.59 113.42L557.67 113.45L557.74 113.48L557.82 113.51L557.89 113.54L557.97 113.57L558.04 113.60L558.12 113.63L558.19 113.67L558.27 113.70L558.35 113.74L558.42 113.77L558.50 113.80L558.57 113.84L558.65 113.87L558.72 113.90L558.80 113.93L558.87 113.96L558.95 113.98L559.02 114.01L559.10 114.03L559.18 114.05L559.25 114.07L559.33 114.09L559.40 114.10L559.48 114.12L559.55 114.12L559.63 114.13L559.70 114.14L559.78 114.14L559.86 114.14L559.93 114.13L560.01 114.13L560.08 114.12L560.16 114.11L560.23 114.10L560.31 114.08L560.38 114.07L560.46 114.05L560.53 114.03L560.61 114.01L560.69 113.98L560.76 113.96L560.84 113.94L560.91 113.91L560.99 113.88L561.06 113.85L561.14 113.83L561.21 113.80L561.29 113.77L561.37 113.74L561.44 113.71L561.52 113.68L561.59 113.65L561.67 113.63L561.74 113.60L561.82 113.57L561.89 113.55L561.97 113.53L562.04 113.51L562.12 113.49L562.20 113.47L562.27 113.45L562.35 113.44L562.42 113.43L562.50 113.42L562.57 113.41L562.65 113.40L562.72 113.40L562.80 113.40L562.88 113.40L562.95 113.40L563.03 113.41L563.10 113.41L563.18 113.42L563.25 113.43L563.33 113.44L563.40 113.46L563.48 113.47L563.55 113.49L563.63 113.50L563.71 113.52L563.78 113.54L563.86 113.56L563.93 113.59L564.01 113.61L564.08 113.63L564.16 113.65L564.23 113.68L564.31 113.70L564.39 113.73L564.46 113.75L564.54 113.77L564.61 113.80L564.69 113.82L564.76 113.84L564.84 113.86L564.91 113.88L564.99 113.90L565.06 113.92L565.14 113.93L565.22 113.95L565.29 113.96L565.37 113.97L565.44 113.98L565.52 113.99L565.59 114.00L565.67 114.00L565.74 114.00L565.82 114.01L565.90 114.01L565.97 114.00L566.05 114.00L566.12 113.99L566.20 113.99L566.27 113.98L566.35 113.97L566.42 113.96L566.50 113.94L566.57 113.93L566.65 113.92L566.73 113.90L566.80 113.88L566.88 113.86L566.95 113.85L567.03 113.83L567.10 113.81L567.18 113.79L567.25 113.77L567.33 113.75L567.41 113.73L567.48 113.71L567.56 113.69L567.63 113.67L567.71 113.65L567.78 113.63L567.86 113.61L567.93 113.59L568.01 113.58L568.08 113.56L568.16 113.55L568.24 113.54L568.31 113.53L568.39 113.52L568.46 113.51L568.54 113.50L568.61 113.50L568.69 113.49L568.76 113.49L568.84 113.49L568.92 113.49L568.99 113.49L569.07 113.49L569.14 113.50L569.22 113.50L569.29 113.51L569.37 113.52L569.44 113.53L569.52 113.54L569.59 113.55L569.67 113.56L569.75 113.58L569.82 113.59L569.90 113.60L569.97 113.62L570.05 113.64L570.12 113.65L570.20 113.67L570.27 113.68L570.35 113.70L570.43 113.72L570.50 113.73L570.58 113.75L570.65 113.77L570.73 113.78L570.80 113.80L570.88 113.81L570.95 113.83L571.03 113.84L571.10 113.85L571.18 113.86L571.26 113.87L571.33 113.88L571.41 113.89L571.48 113.90L571.56 113.90L571.63 113.91L571.71 113.91L571.78 113.91L571.86 113.91L571.94 113.91L572.01 113.91L572.09 113.91L572.16 113.91L572.24 113.90L572.31 113.89L572.39 113.89L572.46 113.88L572.54 113.87L572.61 113.86L572.69 113.85L572.77 113.84L572.84 113.83L572.92 113.82L572.99 113.80L573.07 113.79L573.14 113.78L573.22 113.76L573.29 113.75L573.37 113.73L573.45 113.72L573.52 113.70L573.60 113.69L573.67 113.68L573.75 113.66L573.82 113.65L573.90 113.64L573.97 113.63L574.05 113.62L574.12 113.60L574.20 113.60L574.28 113.59L574.35 113.58L574.43 113.57L574.50 113.57L574.58 113.56L574.65 113.56L574.73 113.55L574.80 113.55L574.88 113.55L574.96 113.55L575.03 113.55L575.11 113.56L575.18 113.56L575.26 113.56L575.33 113.57L575.41 113.57L575.48 113.58L575.56 113.59L575.63 113.60L575.71 113.60L575.79 113.61L575.86 113.62L575.94 113.63L576.01 113.64L576.09 113.65L576.16 113.67L576.24 113.68L576.31 113.69L576.39 113.70L576.47 113.71L576.54 113.72L576.62 113.74L576.69 113.75L576.77 113.76L576.84 113.77L576.92 113.78L576.99 113.79L577.07 113.80L577.14 113.81L577.22 113.81L577.30 113.82L577.37 113.83L577.45 113.83L577.52 113.84L577.60 113.84L577.67 113.85L577.75 113.85L577.82 113.85L577.90 113.85L577.98 113.85L578.05 113.85L578.13 113.85L578.20 113.84L578.28 113.84L578.35 113.84L578.43 113.83L578.50 113.83L578.58 113.82L578.65 113.81L578.73 113.81L578.81 113.80L578.88 113.79L578.96 113.78L579.03 113.77L579.11 113.76L579.18 113.75L579.26 113.74L579.33 113.73L579.41 113.72L579.49 113.71L579.56 113.70L579.64 113.69L579.71 113.68L579.79 113.67L579.86 113.67L579.94 113.66L580.01 113.65L580.09 113.64L580.16 113.63L580.24 113.63L580.32 113.62L580.39 113.61L580.47 113.61L580.54 113.61L580.62 113.60L580.69 113.60L580.77 113.60L580.84 113.60L580.92 113.60L581.00 113.60L581.07 113.60L581.15 113.60L581.22 113.60L581.30 113.60L581.37 113.61L581.45 113.61L581.52 113.62L581.60 113.62L581.67 113.63L581.75 113.63L581.83 113.64L581.90 113.65L581.98 113.65L582.05 113.66L582.13 113.67L582.20 113.68L582.28 113.68L582.35 113.69L582.43 113.70L582.51 113.71L582.58 113.72L582.66 113.72L582.73 113.73L582.81 113.74L582.88 113.75L582.96 113.76L583.03 113.76L583.11 113.77L583.18 113.77L583.26 113.78L583.34 113.78L583.41 113.79L583.49 113.79L583.56 113.80L583.64 113.80L583.71 113.80L583.79 113.80L583.86 113.80L583.94 113.80L584.02 113.80L584.09 113.80L584.17 113.80L584.24 113.80L584.32 113.80L584.39 113.80L584.47 113.79L584.54 113.79L584.62 113.78L584.69 113.78L584.77 113.77L584.85 113.77L584.92 113.76L585.00 113.76L585.07 113.75L585.15 113.74L585.22 113.74L585.30 113.73L585.37 113.72L585.45 113.72L585.53 113.71L585.60 113.70L585.68 113.70L585.75 113.69L585.83 113.68L585.90 113.68L585.98 113.67L586.05 113.66L586.13 113.66L586.20 113.65L586.28 113.65L586.36 113.64L586.43 113.64L586.51 113.64L586.58 113.63L586.66 113.63L586.73 113.63L586.81 113.63L586.88 113.63L586.96 113.63L587.04 113.63L587.11 113.63L587.19 113.63L587.26 113.63L587.34 113.63L587.41 113.64L587.49 113.64L587.56 113.64L587.64 113.64L587.71 113.65L587.79 113.65L587.87 113.66L587.94 113.66L588.02 113.67L588.09 113.67L588.17 113.68L588.24 113.68L588.32 113.69L588.39 113.69L588.47 113.70L588.55 113.71L588.62 113.71L588.70 113.72L588.77 113.72L588.85 113.73L588.92 113.73L589.00 113.74L589.07 113.74L589.15 113.75L589.22 113.75L589.30 113.76L589.38 113.76L589.45 113.76L589.53 113.77L589.60 113.77L589.68 113.77L589.75 113.77L589.83 113.77L589.90 113.77L589.98 113.77L590.06 113.77L590.13 113.77L590.21 113.77L590.28 113.77L590.36 113.77L590.43 113.77L590.51 113.76L590.58 113.76L590.66 113.76L590.73 113.76L590.81 113.75L590.89 113.75L590.96 113.74L591.04 113.74L591.11 113.74L591.19 113.73L591.26 113.73L591.34 113.72L591.41 113.72L591.49 113.71L591.57 113.71L591.64 113.70L591.72 113.70L591.79 113.69L591.87 113.69L591.94 113.68L592.02 113.68L592.09 113.67L592.17 113.67L592.24 113.67L592.32 113.66L592.40 113.66L592.47 113.66L592.55 113.66L592.62 113.65L592.70 113.65L592.77 113.65L592.85 113.65L592.92 113.65L593.00 113.65L593.08 113.65L593.15 113.65L593.23 113.65L593.30 113.65L593.38 113.65L593.45 113.65L593.53 113.66L593.60 113.66L593.68 113.66L593.75 113.66L593.83 113.67L593.91 113.67L593.98 113.67L594.06 113.68L594.13 113.68L594.21 113.68L594.28 113.69L594.36 113.69L594.43 113.70L594.51 113.70L594.59 113.70L594.66 113.71L594.74 113.71L594.81 113.72L594.89 113.72L594.96 113.72L595.04 113.73L595.11 113.73L595.19 113.73L595.26 113.74L595.34 113.74L595.42 113.74L595.49 113.74L595.57 113.75L595.64 113.75L595.72 113.75L595.79 113.75L595.87 113.75L595.94 113.75L596.02 113.75L596.10 113.75L596.17 113.75L596.25 113.75L596.32 113.75L596.40 113.75L596.47 113.75L596.55 113.75L596.62 113.75L596.70 113.75L596.77 113.74L596.85 113.74L596.93 113.74L597.00 113.74L597.08 113.74L597.15 113.74L597.23 113.73L597.30 113.73L597.38 113.73L597.45 113.73L597.53 113.73L597.61 113.72L597.68 113.72L597.76 113.72L597.83 113.72L597.91 113.72L597.98 113.71L598.06 113.71L598.13 113.71L598.21 113.71L598.28 113.71L598.36 113.71L598.44 113.70L598.51 113.70L598.59 113.70L598.66 113.70L598.74 113.70L598.81 113.70L598.89 113.70L598.96 113.70L599.04 113.70L757.50 113.70"/>
<path d="M90.50 399.80L90.52 399.92L90.55 400.28L90.57 400.87L90.59 401.69L90.61 402.74L90.64 404.01L90.66 405.49L90.68 407.17L90.70 409.05L90.72 411.11L90.75 413.33L90.77 415.71L90.79 418.23L90.81 420.88L90.84 423.63L90.86 426.47L90.88 429.39L90.91 432.36L90.93 435.37L90.95 438.40L90.97 441.43L91.00 444.44L91.02 447.41L91.04 450.33L91.06 453.17L91.09 455.92L91.11 458.57L91.13 461.09L91.15 463.47L91.18 465.69L91.20 467.75L91.22 469.63L91.24 471.31L91.27 472.79L91.29 474.06L91.31 475.11L91.33 475.93L91.36 476.52L91.38 476.88L91.40 477.00L91.50 476.82L91.59 476.28L91.69 475.38L91.78 474.13L91.88 472.54L91.97 470.62L92.07 468.37L92.16 465.82L92.26 462.97L92.35 459.85L92.45 456.48L92.54 452.86L92.64 449.04L92.73 445.03L92.83 440.86L92.92 436.54L93.02 432.12L93.11 427.61L93.20 423.04L93.30 418.45L93.40 413.86L93.49 409.29L93.59 404.78L93.68 400.36L93.78 396.04L93.87 391.87L93.97 387.86L94.06 384.04L94.16 380.42L94.25 377.05L94.34 373.93L94.44 371.08L94.53 368.53L94.63 366.28L94.73 364.36L94.82 362.77L94.92 361.52L95.01 360.62L95.11 360.08L95.20 359.90L95.27 360.04L95.34 360.48L95.40 361.19L95.47 362.19L95.54 363.46L95.61 365.00L95.67 366.80L95.74 368.84L95.81 371.11L95.88 373.61L95.94 376.31L96.01 379.19L96.08 382.25L96.15 385.45L96.21 388.79L96.28 392.24L96.35 395.77L96.42 399.38L96.48 403.03L96.55 406.70L96.62 410.37L96.69 414.02L96.75 417.63L96.82 421.16L96.89 424.61L96.95 427.95L97.02 431.15L97.09 434.21L97.16 437.09L97.23 439.79L97.29 442.29L97.36 444.56L97.43 446.60L97.50 448.40L97.56 449.94L97.63 451.21L97.70 452.21L97.77 452.92L97.83 453.36L97.90 453.50L97.98 453.40L98.05 453.08L98.12 452.57L98.20 451.85L98.28 450.93L98.35 449.82L98.43 448.52L98.50 447.04L98.58 445.40L98.65 443.60L98.73 441.65L98.80 439.57L98.88 437.36L98.95 435.04L99.03 432.63L99.10 430.14L99.18 427.59L99.25 424.99L99.33 422.35L99.40 419.70L99.48 417.05L99.55 414.41L99.62 411.81L99.70 409.26L99.78 406.77L99.85 404.36L99.93 402.04L100.00 399.83L100.08 397.75L100.15 395.80L100.23 394.00L100.30 392.36L100.38 390.88L100.45 389.58L100.53 388.47L100.60 387.55L100.68 386.83L100.75 386.32L100.83 386.00L100.90 385.90L100.98 385.99L101.05 386.26L101.12 386.71L101.20 387.34L101.28 388.14L101.35 389.11L101.43 390.24L101.50 391.52L101.58 392.96L101.65 394.53L101.73 396.22L101.80 398.04L101.88 399.96L101.95 401.98L102.03 404.08L102.10 406.25L102.18 408.48L102.25 410.74L102.33 413.04L102.40 415.35L102.48 417.66L102.55 419.96L102.62 422.22L102.70 424.45L102.78 426.62L102.85 428.72L102.93 430.74L103.00 432.66L103.08 434.48L103.15 436.17L103.23 437.74L103.30 439.18L103.38 440.46L103.45 441.59L103.53 442.56L103.60 443.36L103.68 443.99L103.75 444.44L103.83 444.71L103.90 444.80L103.97 444.73L104.05 444.54L104.12 444.22L104.19 443.77L104.26 443.19L104.34 442.50L104.41 441.69L104.48 440.77L104.55 439.74L104.62 438.62L104.70 437.40L104.77 436.10L104.84 434.72L104.92 433.28L104.99 431.77L105.06 430.22L105.13 428.63L105.20 427.00L105.28 425.36L105.35 423.70L105.42 422.04L105.50 420.40L105.57 418.77L105.64 417.18L105.71 415.63L105.78 414.12L105.86 412.68L105.93 411.30L106.00 410.00L106.08 408.78L106.15 407.66L106.22 406.63L106.29 405.71L106.36 404.90L106.44 404.21L106.51 403.63L106.58 403.18L106.66 402.86L106.73 402.67L106.80 402.60L106.88 402.66L106.96 402.83L107.04 403.12L107.12 403.53L107.20 404.04L107.28 404.67L107.36 405.39L107.44 406.22L107.52 407.14L107.60 408.15L107.68 409.24L107.76 410.41L107.84 411.65L107.92 412.95L108.00 414.30L108.08 415.69L108.16 417.13L108.24 418.59L108.32 420.06L108.40 421.55L108.48 423.04L108.56 424.51L108.64 425.97L108.72 427.41L108.80 428.80L108.88 430.15L108.96 431.45L109.04 432.69L109.12 433.86L109.20 434.95L109.28 435.96L109.36 436.88L109.44 437.71L109.52 438.43L109.60 439.06L109.68 439.57L109.76 439.98L109.84 440.27L109.92 440.44L110.00 440.50L110.08 440.46L110.16 440.34L110.23 440.14L110.31 439.86L110.39 439.50L110.47 439.07L110.54 438.56L110.62 437.99L110.70 437.35L110.78 436.65L110.85 435.89L110.93 435.08L111.01 434.22L111.08 433.32L111.16 432.38L111.24 431.41L111.32 430.42L111.39 429.41L111.47 428.38L111.55 427.35L111.63 426.32L111.70 425.29L111.78 424.28L111.86 423.29L111.94 422.32L112.02 421.38L112.09 420.48L112.17 419.62L112.25 418.81L112.32 418.05L112.40 417.35L112.48 416.71L112.56 416.14L112.63 415.63L112.71 415.20L112.79 414.84L112.87 414.56L112.94 414.36L113.02 414.24L113.10 414.20L113.18 414.24L113.26 414.35L113.34 414.53L113.42 414.79L113.50 415.11L113.58 415.51L113.66 415.97L113.74 416.49L113.82 417.08L113.90 417.71L113.98 418.41L114.06 419.15L114.14 419.93L114.22 420.75L114.30 421.61L114.38 422.49L114.46 423.40L114.54 424.32L114.62 425.26L114.70 426.20L114.78 427.14L114.86 428.08L114.94 429.00L115.02 429.91L115.10 430.79L115.18 431.65L115.26 432.47L115.34 433.25L115.42 433.99L115.50 434.69L115.58 435.32L115.66 435.91L115.74 436.43L115.82 436.89L115.90 437.29L115.98 437.61L116.06 437.87L116.14 438.05L116.22 438.16L116.30 438.20L116.37 438.17L116.44 438.10L116.50 437.97L116.57 437.80L116.64 437.57L116.70 437.30L116.77 436.98L116.84 436.62L116.91 436.22L116.97 435.78L117.04 435.31L117.11 434.80L117.18 434.26L117.25 433.70L117.31 433.11L117.38 432.50L117.45 431.88L117.52 431.24L117.58 430.60L117.65 429.95L117.72 429.30L117.78 428.66L117.85 428.02L117.92 427.40L117.99 426.79L118.05 426.20L118.12 425.64L118.19 425.10L118.26 424.59L118.33 424.12L118.39 423.68L118.46 423.28L118.53 422.92L118.59 422.60L118.66 422.33L118.73 422.10L118.80 421.93L118.86 421.80L118.93 421.73L119.00 421.70L119.08 421.72L119.16 421.79L119.24 421.91L119.32 422.06L119.40 422.27L119.48 422.51L119.56 422.80L119.64 423.12L119.72 423.48L119.80 423.88L119.88 424.31L119.96 424.77L120.04 425.26L120.12 425.77L120.20 426.30L120.28 426.85L120.36 427.41L120.44 427.98L120.52 428.57L120.60 429.15L120.68 429.73L120.76 430.32L120.84 430.89L120.92 431.45L121.00 432.00L121.08 432.53L121.16 433.04L121.24 433.53L121.32 433.99L121.40 434.42L121.48 434.82L121.56 435.18L121.64 435.50L121.72 435.79L121.80 436.03L121.88 436.24L121.96 436.39L122.04 436.51L122.12 436.58L122.20 436.60L122.27 436.58L122.34 436.54L122.41 436.46L122.48 436.35L122.55 436.22L122.62 436.05L122.69 435.86L122.76 435.64L122.83 435.39L122.90 435.12L122.97 434.83L123.04 434.52L123.11 434.19L123.18 433.84L123.25 433.48L123.32 433.11L123.39 432.73L123.46 432.34L123.53 431.95L123.60 431.55L123.67 431.15L123.74 430.76L123.81 430.37L123.88 429.99L123.95 429.62L124.02 429.26L124.09 428.91L124.16 428.58L124.23 428.27L124.30 427.98L124.37 427.71L124.44 427.46L124.51 427.24L124.58 427.05L124.65 426.88L124.72 426.75L124.79 426.64L124.86 426.56L124.93 426.52L125.00 426.50L125.06 426.51L125.13 426.56L125.19 426.63L125.26 426.73L125.33 426.86L125.39 427.01L125.45 427.19L125.52 427.40L125.58 427.63L125.65 427.88L125.72 428.15L125.78 428.44L125.84 428.74L125.91 429.07L125.97 429.40L126.04 429.75L126.11 430.10L126.17 430.46L126.23 430.83L126.30 431.20L126.36 431.57L126.43 431.94L126.49 432.30L126.56 432.65L126.62 433.00L126.69 433.33L126.75 433.66L126.82 433.96L126.88 434.25L126.95 434.52L127.02 434.77L127.08 435.00L127.14 435.21L127.21 435.39L127.27 435.54L127.34 435.67L127.41 435.77L127.47 435.84L127.53 435.89L127.60 435.90L127.68 435.89L127.77 435.86L127.85 435.82L127.93 435.75L128.01 435.67L128.09 435.57L128.18 435.45L128.26 435.32L128.34 435.17L128.43 435.01L128.51 434.83L128.59 434.64L128.67 434.44L128.75 434.23L128.84 434.02L128.92 433.79L129.00 433.56L129.09 433.33L129.17 433.09L129.25 432.85L129.33 432.61L129.41 432.37L129.50 432.14L129.58 431.91L129.66 431.68L129.75 431.47L129.83 431.26L129.91 431.06L129.99 430.87L130.07 430.69L130.16 430.53L130.24 430.38L130.32 430.25L130.41 430.13L130.49 430.03L130.57 429.95L130.65 429.88L130.74 429.84L130.82 429.81L130.90 429.80L130.98 429.81L131.05 429.84L131.13 429.88L131.20 429.94L131.28 430.02L131.35 430.11L131.43 430.23L131.50 430.35L131.58 430.49L131.66 430.65L131.73 430.81L131.81 430.99L131.88 431.18L131.96 431.38L132.03 431.58L132.11 431.80L132.18 432.01L132.26 432.24L132.33 432.46L132.41 432.69L132.49 432.91L132.56 433.14L132.64 433.36L132.71 433.58L132.79 433.79L132.86 434.00L132.94 434.20L133.01 434.39L133.09 434.56L133.17 434.73L133.24 434.88L133.32 435.02L133.39 435.15L133.47 435.26L133.54 435.36L133.62 435.43L133.69 435.50L133.77 435.54L133.84 435.57L133.92 435.58L134.00 435.57L134.07 435.55L134.15 435.52L134.22 435.48L134.30 435.43L134.37 435.36L134.45 435.29L134.52 435.20L134.60 435.11L134.68 435.00L134.75 434.89L134.83 434.77L134.90 434.64L134.98 434.51L135.05 434.37L135.13 434.23L135.20 434.08L135.28 433.93L135.35 433.78L135.43 433.62L135.51 433.47L135.58 433.32L135.66 433.17L135.73 433.02L135.81 432.88L135.88 432.74L135.96 432.60L136.03 432.48L136.11 432.36L136.19 432.24L136.26 432.14L136.34 432.04L136.41 431.96L136.49 431.88L136.56 431.82L136.64 431.77L136.71 431.73L136.79 431.70L136.86 431.68L136.94 431.67L137.02 431.68L137.09 431.69L137.17 431.72L137.24 431.76L137.32 431.81L137.39 431.87L137.47 431.94L137.54 432.02L137.62 432.11L137.70 432.21L137.77 432.32L137.85 432.43L137.92 432.55L138.00 432.68L138.07 432.81L138.15 432.95L138.22 433.09L138.30 433.23L138.37 433.38L138.45 433.52L138.53 433.67L138.60 433.81L138.68 433.95L138.75 434.09L138.83 434.23L138.90 434.36L138.98 434.49L139.05 434.61L139.13 434.72L139.21 434.83L139.28 434.93L139.36 435.02L139.43 435.10L139.51 435.17L139.58 435.23L139.66 435.28L139.73 435.32L139.81 435.35L139.88 435.36L139.96 435.37L140.04 435.36L140.11 435.35L140.19 435.33L140.26 435.31L140.34 435.27L140.41 435.23L140.49 435.18L140.56 435.13L140.64 435.07L140.72 435.00L140.79 434.93L140.87 434.85L140.94 434.77L141.02 434.69L141.09 434.60L141.17 434.51L141.24 434.41L141.32 434.31L141.39 434.22L141.47 434.12L141.55 434.02L141.62 433.92L141.70 433.83L141.77 433.73L141.85 433.64L141.92 433.55L142.00 433.47L142.07 433.39L142.15 433.31L142.23 433.24L142.30 433.17L142.38 433.11L142.45 433.05L142.53 433.01L142.60 432.97L142.68 432.93L142.75 432.90L142.83 432.89L142.90 432.87L142.98 432.87L143.06 432.87L143.13 432.88L143.21 432.90L143.28 432.93L143.36 432.96L143.43 433.00L143.51 433.04L143.58 433.10L143.66 433.15L143.74 433.22L143.81 433.28L143.89 433.36L143.96 433.43L144.04 433.52L144.11 433.60L144.19 433.69L144.26 433.78L144.34 433.87L144.41 433.96L144.49 434.05L144.57 434.15L144.64 434.24L144.72 434.33L144.79 434.42L144.87 434.51L144.94 434.59L145.02 434.67L145.09 434.75L145.17 434.82L145.25 434.89L145.32 434.95L145.40 435.01L145.47 435.06L145.55 435.11L145.62 435.15L145.70 435.18L145.77 435.20L145.85 435.22L145.92 435.23L146.00 435.24L146.08 435.23L146.15 435.23L146.23 435.21L146.30 435.20L146.38 435.18L146.45 435.15L146.53 435.12L146.60 435.08L146.68 435.04L146.76 435.00L146.83 434.96L146.91 434.91L146.98 434.85L147.06 434.80L147.13 434.74L147.21 434.68L147.28 434.62L147.36 434.56L147.43 434.50L147.51 434.44L147.59 434.37L147.66 434.31L147.74 434.25L147.81 434.19L147.89 434.13L147.96 434.07L148.04 434.02L148.11 433.97L148.19 433.92L148.27 433.87L148.34 433.83L148.42 433.79L148.49 433.75L148.57 433.72L148.64 433.70L148.72 433.68L148.79 433.66L148.87 433.65L148.94 433.64L149.02 433.64L149.10 433.64L149.17 433.65L149.25 433.66L149.32 433.67L149.40 433.69L149.47 433.72L149.55 433.75L149.62 433.78L149.70 433.82L149.78 433.86L149.85 433.90L149.93 433.95L150.00 434.00L150.08 434.05L150.15 434.10L150.23 434.16L150.30 434.22L150.38 434.28L150.45 434.33L150.53 434.39L150.61 434.45L150.68 434.51L150.76 434.57L150.83 434.63L150.91 434.68L150.98 434.74L151.06 434.79L151.13 434.84L151.21 434.89L151.29 434.93L151.36 434.97L151.44 435.01L151.51 435.04L151.59 435.07L151.66 435.09L151.74 435.11L151.81 435.13L151.89 435.14L151.96 435.15L152.04 435.15L152.12 435.15L152.19 435.14L152.27 435.14L152.34 435.13L152.42 435.11L152.49 435.10L152.57 435.08L152.64 435.05L152.72 435.03L152.80 435.00L152.87 434.97L152.95 434.94L153.02 434.91L153.10 434.87L153.17 434.84L153.25 434.80L153.32 434.76L153.40 434.72L153.47 434.68L153.55 434.64L153.63 434.60L153.70 434.56L153.78 434.52L153.85 434.48L153.93 434.44L154.00 434.41L154.08 434.37L154.15 434.34L154.23 434.31L154.31 434.28L154.38 434.25L154.46 434.23L154.53 434.20L154.61 434.18L154.68 434.17L154.76 434.15L154.83 434.14L154.91 434.13L154.98 434.13L155.06 434.13L155.14 434.13L155.21 434.13L155.29 434.14L155.36 434.15L155.44 434.16L155.51 434.18L155.59 434.20L155.66 434.22L155.74 434.24L155.82 434.27L155.89 434.30L155.97 434.33L156.04 434.36L156.12 434.39L156.19 434.43L156.27 434.46L156.34 434.50L156.42 434.54L156.49 434.57L156.57 434.61L156.65 434.65L156.72 434.69L156.80 434.73L156.87 434.76L156.95 434.80L157.02 434.83L157.10 434.87L157.17 434.90L157.25 434.93L157.33 434.95L157.40 434.98L157.48 435.00L157.55 435.03L157.63 435.04L157.70 435.06L157.78 435.07L157.85 435.08L157.93 435.09L158.00 435.10L158.08 435.10L158.16 435.10L158.23 435.09L158.31 435.09L158.38 435.08L158.46 435.07L158.53 435.06L158.61 435.05L158.68 435.03L158.76 435.02L158.84 435.00L158.91 434.98L158.99 434.96L159.06 434.94L159.14 434.92L159.21 434.89L159.29 434.87L159.36 434.85L159.44 434.82L159.51 434.79L159.59 434.77L159.67 434.74L159.74 434.72L159.82 434.69L159.89 434.67L159.97 434.64L160.04 434.62L160.12 434.60L160.19 434.58L160.27 434.56L160.35 434.54L160.42 434.52L160.50 434.50L160.57 434.49L160.65 434.48L160.72 434.47L160.80 434.46L160.87 434.45L160.95 434.45L161.02 434.44L161.10 434.44L161.18 434.44L161.25 434.45L161.33 434.45L161.40 434.46L161.48 434.47L161.55 434.48L161.63 434.49L161.70 434.50L161.78 434.52L161.86 434.53L161.93 434.55L162.01 434.57L162.08 434.59L162.16 434.61L162.23 434.63L162.31 434.66L162.38 434.68L162.46 434.70L162.53 434.73L162.61 434.75L162.69 434.78L162.76 434.80L162.84 434.82L162.91 434.85L162.99 434.87L163.06 434.89L163.14 434.91L163.21 434.93L163.29 434.95L163.37 434.97L163.44 434.99L163.52 435.00L163.59 435.02L163.67 435.03L163.74 435.04L163.82 435.05L163.89 435.05L163.97 435.06L164.04 435.06L164.12 435.06L164.20 435.06L164.27 435.06L164.35 435.06L164.42 435.05L164.50 435.05L164.57 435.04L164.65 435.03L164.72 435.02L164.80 435.01L164.88 435.00L164.95 434.99L165.03 434.98L165.10 434.96L165.18 434.95L165.25 434.93L165.33 434.92L165.40 434.90L165.48 434.89L165.55 434.87L165.63 434.85L165.71 434.84L165.78 434.82L165.86 434.80L165.93 434.79L166.01 434.77L166.08 434.76L166.16 434.74L166.23 434.73L166.31 434.72L166.39 434.70L166.46 434.69L166.54 434.68L166.61 434.67L166.69 434.67L166.76 434.66L166.84 434.65L166.91 434.65L166.99 434.65L167.06 434.64L167.14 434.64L167.22 434.64L167.29 434.64L167.37 434.65L167.44 434.65L167.52 434.66L167.59 434.66L167.67 434.67L167.74 434.68L167.82 434.69L167.90 434.69L167.97 434.71L168.05 434.72L168.12 434.73L168.20 434.74L168.27 434.75L168.35 434.77L168.42 434.78L168.50 434.79L168.57 434.81L168.65 434.82L168.73 434.84L168.80 434.85L168.88 434.86L168.95 434.88L169.03 434.89L169.10 434.90L169.18 434.91L169.25 434.93L169.33 434.94L169.41 434.95L169.48 434.96L169.56 434.97L169.63 434.97L169.71 434.98L169.78 434.99L169.86 434.99L169.93 435.00L170.01 435.00L170.08 435.00L170.16 435.00L361.50 435.00"/>
</g>
<g font-family='"Liberation Sans", sans-serif' fill="#231f20">
<text x="53.82" y="242.00" font-size="22">0.</text>
<path transform="translate(72.16,242.00) scale(22)" d="M0.372,0L0.290,0L0.290,-0.505C0.235,-0.482 0.170,-0.475 0.112,-0.475L0.112,-0.540C0.205,-0.548 0.270,-0.598 0.300,-0.675L0.372,-0.675Z"/>
<text x="84.40" y="167.00" text-anchor="end" font-size="22" >0.2</text>
<text x="84.40" y="93.00" text-anchor="end" font-size="22" >0.3</text>
<text x="84.40" y="19.00" text-anchor="end" font-size="22" >0.4</text>
<text x="480.40" y="242.00" text-anchor="end" font-size="22" >0.2</text>
<text x="480.40" y="186.00" text-anchor="end" font-size="22" >0.3</text>
<text x="480.40" y="130.00" text-anchor="end" font-size="22" >0.4</text>
<text x="480.40" y="74.00" text-anchor="end" font-size="22" >0.5</text>
<text x="84.40" y="557.00" text-anchor="end" font-size="22" >0.09</text>
<text x="53.82" y="482.00" font-size="22">0.</text>
<path transform="translate(72.16,482.00) scale(22)" d="M0.372,0L0.290,0L0.290,-0.505C0.235,-0.482 0.170,-0.475 0.112,-0.475L0.112,-0.540C0.205,-0.548 0.270,-0.598 0.300,-0.675L0.372,-0.675Z"/>
<text x="41.58" y="408.00" font-size="22">0.</text>
<path transform="translate(59.93,408.00) scale(22)" d="M0.372,0L0.290,0L0.290,-0.505C0.235,-0.482 0.170,-0.475 0.112,-0.475L0.112,-0.540C0.205,-0.548 0.270,-0.598 0.300,-0.675L0.372,-0.675Z"/>
<path transform="translate(72.16,408.00) scale(22)" d="M0.372,0L0.290,0L0.290,-0.505C0.235,-0.482 0.170,-0.475 0.112,-0.475L0.112,-0.540C0.205,-0.548 0.270,-0.598 0.300,-0.675L0.372,-0.675Z"/>
<text x="41.58" y="334.00" font-size="22">0.</text>
<path transform="translate(59.93,334.00) scale(22)" d="M0.372,0L0.290,0L0.290,-0.505C0.235,-0.482 0.170,-0.475 0.112,-0.475L0.112,-0.540C0.205,-0.548 0.270,-0.598 0.300,-0.675L0.372,-0.675Z"/>
<text x="72.16" y="334.00" font-size="22">2</text>
<text x="90.50" y="260.00" text-anchor="middle" font-size="22" >0</text>
<text x="226.00" y="260.00" text-anchor="middle" font-size="22" >500</text>
<path transform="translate(337.03,260.00) scale(22)" d="M0.372,0L0.290,0L0.290,-0.505C0.235,-0.482 0.170,-0.475 0.112,-0.475L0.112,-0.540C0.205,-0.548 0.270,-0.598 0.300,-0.675L0.372,-0.675Z"/>
<text x="349.26" y="260.00" font-size="22">000</text>
<text x="226.00" y="285.00" text-anchor="middle" font-size="22" >Time</text>
<text x="486.50" y="260.00" text-anchor="middle" font-size="22" >0</text>
<text x="622.00" y="260.00" text-anchor="middle" font-size="22" >500</text>
<path transform="translate(733.03,260.00) scale(22)" d="M0.372,0L0.290,0L0.290,-0.505C0.235,-0.482 0.170,-0.475 0.112,-0.475L0.112,-0.540C0.205,-0.548 0.270,-0.598 0.300,-0.675L0.372,-0.675Z"/>
<text x="745.26" y="260.00" font-size="22">000</text>
<text x="622.00" y="285.00" text-anchor="middle" font-size="22" >Time</text>
<text x="90.50" y="575.00" text-anchor="middle" font-size="22" >0</text>
<text x="226.00" y="575.00" text-anchor="middle" font-size="22" >500</text>
<path transform="translate(337.03,575.00) scale(22)" d="M0.372,0L0.290,0L0.290,-0.505C0.235,-0.482 0.170,-0.475 0.112,-0.475L0.112,-0.540C0.205,-0.548 0.270,-0.598 0.300,-0.675L0.372,-0.675Z"/>
<text x="349.26" y="575.00" font-size="22">000</text>
<text x="226.00" y="600.00" text-anchor="middle" font-size="22" >Time</text>
<g transform="translate(30.65,122.30) rotate(-90)">
<text x="-10.37" y="0" font-size="22">x</text>
<path transform="translate(0.63,10.30) scale(17.5)" d="M0.372,0L0.290,0L0.290,-0.505C0.235,-0.482 0.170,-0.475 0.112,-0.475L0.112,-0.540C0.205,-0.548 0.270,-0.598 0.300,-0.675L0.372,-0.675Z"/>
</g>
<g transform="translate(426.75,122.30) rotate(-90)">
<text x="-10.37" y="0" font-size="22">x</text>
<text x="0.63" y="10.9" font-size="17.5">2</text>
</g>
<g transform="translate(18.70,437.40) rotate(-90)">
<text x="-10.37" y="0" font-size="22">x</text>
<text x="0.63" y="10.9" font-size="17.5">3</text>
</g>
</g>
<path d="M486.50 460.00L649.40 401.80M649.40 401.80L757.40 490.40M486.50 421.70L649.40 363.50M649.40 363.50L757.40 452.10M486.50 383.40L649.40 325.20M649.40 325.20L757.40 413.80M567.95 430.90L567.95 354.30M675.95 519.50L567.95 430.90M649.40 401.80L649.40 325.20M757.40 490.40L649.40 401.80M703.40 446.10L703.40 369.50M757.40 490.40L757.40 413.80M540.50 504.30L703.40 446.10M486.50 460.00L649.40 401.80" stroke="#333" stroke-width="1.1" stroke-dasharray="1.1 8.55" fill="none"/>
<path d="M486.50 460.00L486.50 383.40M486.50 460.00L594.50 548.60M594.50 548.60L757.40 490.40M486.50 460.00L483.41 457.46M486.50 421.70L483.41 419.16M486.50 383.40L483.41 380.86M594.50 548.60L590.26 550.11M540.50 504.30L536.26 505.81M486.50 460.00L482.26 461.51M594.50 548.60L597.90 551.39M675.95 519.50L679.35 522.29M757.40 490.40L760.80 493.19" stroke="#231f20" stroke-width="1.15" fill="none"/>
<path d="M597.92 440.49L598.49 440.80L599.05 441.11L599.62 441.42L600.18 441.72L600.74 442.01L601.30 442.30L601.86 442.59L602.42 442.88L602.97 443.16L603.53 443.44L604.08 443.71L604.63 443.98L605.18 444.25L605.73 444.51L606.28 444.77L606.82 445.03L607.37 445.28L607.91 445.53L608.45 445.77L609.00 446.01L609.54 446.25L610.07 446.48L610.61 446.71L611.15 446.94L611.68 447.16L612.22 447.38L612.75 447.59L613.28 447.80L613.82 448.01L614.35 448.22L614.88 448.42L615.41 448.61L615.93 448.80L616.46 448.99L616.99 449.18L617.51 449.36L618.04 449.54L618.57 449.71L619.09 449.89L619.62 450.05L620.14 450.22L620.66 450.38L621.19 450.53L621.71 450.69L622.23 450.84L622.76 450.99L623.28 451.13L623.80 451.27L624.32 451.40L624.85 451.54L625.37 451.67L625.89 451.79L626.41 451.92L626.94 452.04L627.46 452.15L627.98 452.27L628.51 452.38L629.03 452.48L629.56 452.59L630.08 452.69L630.61 452.78L631.13 452.88L631.66 452.97L632.18 453.06L632.71 453.14L633.24 453.22L633.77 453.30L634.30 453.38L634.83 453.45L635.36 453.52L635.89 453.58L636.42 453.65L636.96 453.71L637.49 453.77L638.02 453.82L638.56 453.87L639.10 453.92L639.63 453.97L640.17 454.01L640.71 454.05L641.25 454.09L641.79 454.12L642.33 454.16L642.87 454.19L643.42 454.21L643.96 454.24L644.51 454.26L645.05 454.28L645.60 454.29L646.15 454.31L646.70 454.32L647.24 454.32L647.79 454.33L648.34 454.33L648.90 454.33L649.45 454.33L650.00 454.33L650.55 454.32L651.11 454.31L651.66 454.30L652.22 454.28L652.77 454.26L653.33 454.24L653.88 454.22L654.44 454.20L655.00 454.17L655.55 454.14L656.11 454.11L656.67 454.07L657.23 454.04L657.78 454.00L658.34 453.96L658.90 453.91L659.46 453.87L660.01 453.82L660.57 453.77L661.12 453.71L661.68 453.66L662.23 453.60L662.79 453.54L663.34 453.47L663.89 453.41L664.45 453.34L665.00 453.27L665.55 453.20L666.09 453.12L666.64 453.04L667.19 452.96L667.73 452.88L668.27 452.80L668.81 452.71L669.35 452.62L669.89 452.53L670.43 452.43L670.96 452.34L671.49 452.24L672.02 452.14L672.54 452.03L673.07 451.93L673.59 451.82L674.11 451.71L674.62 451.59L675.13 451.48L675.64 451.36L676.15 451.24L676.65 451.12L677.15 450.99L677.64 450.86L678.14 450.73L678.62 450.60L679.11 450.46L679.59 450.32L680.06 450.18L680.53 450.04L681.00 449.89L681.46 449.74L681.91 449.59L682.36 449.44L682.81 449.28L683.25 449.12L683.69 448.96L684.12 448.80L684.54 448.63L684.96 448.46L685.37 448.29L685.78 448.12L686.18 447.94L686.57 447.76L686.96 447.58L687.34 447.39L687.71 447.20L688.08 447.01L688.44 446.82L688.79 446.62L689.47 446.22L690.12 445.81L690.74 445.39L691.33 444.95L691.88 444.51L692.40 444.05L692.89 443.59L693.34 443.12L693.75 442.63L694.12 442.14L694.46 441.64L694.76 441.13L695.02 440.61L695.24 440.08L695.41 439.54L695.55 439.00L695.65 438.45L695.70 437.89L695.71 437.32L695.67 436.75L695.60 436.17L695.47 435.59L695.31 435.00L695.10 434.40L694.84 433.80L694.54 433.20L694.19 432.58L693.80 431.97L693.36 431.34L692.87 430.71L692.61 430.40L692.34 430.08L692.06 429.76L691.76 429.45L691.46 429.13L691.14 428.80L690.81 428.48L690.47 428.16L690.12 427.83L689.75 427.51L689.38 427.18L688.99 426.86L688.59 426.53L688.18 426.20L687.76 425.87L687.33 425.54L686.89 425.21L686.43 424.88L685.97 424.55L685.49 424.21L685.00 423.88L684.50 423.55L684.00 423.21L683.48 422.88L682.95 422.54L682.40 422.21L681.85 421.87L681.29 421.54L680.72 421.20L680.14 420.86L679.54 420.53L678.94 420.19L678.33 419.85L677.71 419.51L677.08 419.18L676.44 418.84L675.79 418.50L675.13 418.17L674.46 417.83L673.78 417.49L673.09 417.16L672.40 416.82L671.69 416.49L670.98 416.15L670.26 415.82L669.53 415.48L668.79 415.15L668.04 414.82L667.29 414.48L666.53 414.15L665.76 413.82L664.98 413.49L664.20 413.16L663.41 412.84L662.61 412.51L661.81 412.18L661.00 411.86L660.18 411.53L659.36 411.21L658.53 410.89L657.70 410.57L656.86 410.25L656.01 409.93L655.16 409.62L654.31 409.30L653.45 408.99L652.58 408.68L651.71 408.37L650.84 408.06L649.96 407.76L649.08 407.45L648.19 407.15L647.30 406.85L646.41 406.55L645.51 406.26L644.61 405.96L643.71 405.67L642.81 405.38L641.90 405.09L640.99 404.81L640.08 404.52L639.17 404.24L638.26 403.96L637.34 403.69L636.42 403.41L635.51 403.14L634.59 402.88L633.67 402.61L632.75 402.35L631.83 402.09L630.91 401.83L629.99 401.58L629.08 401.33L628.16 401.08L627.24 400.83L626.33 400.59L625.41 400.35L624.50 400.12L623.59 399.89L622.68 399.66L621.77 399.43L620.87 399.21L619.97 398.99L619.07 398.77L618.17 398.56L617.28 398.35L616.39 398.15L615.50 397.95L614.62 397.75L613.74 397.55L612.86 397.36L611.99 397.18L611.13 396.99L610.26 396.81L609.41 396.64L608.56 396.47L607.71 396.30L606.87 396.13L606.03 395.97L605.20 395.82L604.37 395.67L603.56 395.52L602.74 395.38L601.94 395.24L601.14 395.10L600.34 394.97L599.56 394.84L598.78 394.72L598.01 394.60L597.24 394.49L596.48 394.38L595.73 394.28L594.99 394.17L594.26 394.08L593.53 393.99L592.81 393.90L592.10 393.82L591.40 393.74L590.70 393.66L590.02 393.59L589.34 393.53L588.67 393.47L588.02 393.41L587.37 393.36L586.73 393.31L586.09 393.27L585.47 393.23L584.86 393.20L584.26 393.17L583.66 393.15L583.08 393.13L582.51 393.11L581.94 393.10L581.39 393.10L580.84 393.10L580.31 393.10L579.79 393.11L579.27 393.12L578.77 393.14L578.28 393.16L577.80 393.19L577.32 393.22L576.86 393.25L576.41 393.29L575.97 393.34L575.54 393.39L575.12 393.44L574.71 393.50L574.32 393.56L573.55 393.70L572.83 393.85L572.16 394.02L571.52 394.21L570.93 394.42L570.39 394.64L569.88 394.88L569.42 395.14L569.01 395.41L568.63 395.70L568.30 396.00L568.01 396.32L567.76 396.65L567.55 397.00L567.31 397.54L567.16 398.12L567.11 398.52L567.10 398.94L567.13 399.36L567.19 399.80L567.29 400.25L567.43 400.71L567.60 401.18L567.80 401.66L568.04 402.15L568.31 402.65L568.61 403.15L568.94 403.67L569.29 404.19L569.68 404.72L570.10 405.26L570.54 405.80L571.00 406.35L571.50 406.91L572.01 407.47L572.55 408.03L573.10 408.60L573.39 408.88L573.68 409.17L573.98 409.46L574.28 409.75L574.59 410.03L574.90 410.32L575.21 410.61L575.53 410.90L575.85 411.19L576.18 411.48L576.51 411.77L576.84 412.06L577.18 412.36L577.52 412.65L577.87 412.94L578.21 413.23L578.56 413.52L578.92 413.81L579.27 414.10L579.63 414.39L580.00 414.68L580.36 414.97L580.73 415.26L581.09 415.55L581.46 415.84L581.84 416.13L582.21 416.42L582.59 416.71L582.97 416.99L583.35 417.28L583.73 417.56L584.11 417.85L584.49 418.13L584.88 418.41L585.26 418.70L585.65 418.98L586.04 419.26L586.42 419.54L586.81 419.81L587.20 420.09L587.59 420.37L587.98 420.64L588.37 420.91L588.76 421.18L589.15 421.45L589.54 421.72L589.93 421.99L590.33 422.26L590.72 422.52L591.11 422.79L591.49 423.05L591.88 423.31L592.27 423.57L592.66 423.82L593.05 424.08L593.43 424.33L593.82 424.59L594.21 424.84L594.59 425.09L594.97 425.33L595.36 425.58L595.74 425.82L596.12 426.06L596.50 426.30L596.87 426.54L597.25 426.78L597.63 427.01L598.00 427.24L598.37 427.47L598.74 427.70L599.11 427.93L599.48 428.15L599.85 428.37L600.21 428.59L600.58 428.81L600.94 429.03L601.30 429.24L601.66 429.46L602.01 429.67L602.37 429.87L602.72 430.08L603.07 430.28L603.43 430.48L603.77 430.68L604.47 431.08L605.15 431.46L605.83 431.84L606.50 432.20L607.16 432.56L607.82 432.91L608.47 433.25L609.12 433.58L609.75 433.91L610.38 434.22L611.01 434.53L611.63 434.82L612.24 435.11L612.85 435.39L613.45 435.66L614.05 435.92L614.64 436.17L615.23 436.42L615.81 436.65L616.39 436.88L616.96 437.10L617.54 437.31L618.10 437.51L618.67 437.70L619.24 437.89L619.80 438.07L620.36 438.24L620.92 438.40L621.48 438.55L622.03 438.70L622.59 438.84L623.15 438.97L623.70 439.09L624.26 439.21L624.82 439.32L625.38 439.42L625.94 439.52L626.50 439.61L627.07 439.69L627.63 439.77L628.20 439.84L628.77 439.90L629.35 439.96L629.92 440.01L630.50 440.06L631.08 440.10L631.67 440.13L632.26 440.16L632.85 440.18L633.44 440.20L634.04 440.21L634.64 440.21L635.24 440.21L635.85 440.21L636.46 440.20L637.07 440.19L637.68 440.16L638.30 440.14L638.92 440.11L639.54 440.07L640.16 440.03L640.79 439.98L641.41 439.93L642.04 439.87L642.66 439.81L643.29 439.74L643.91 439.66L644.54 439.58L645.16 439.49L645.78 439.40L646.40 439.30L647.02 439.19L647.63 439.08L648.24 438.96L648.84 438.84L649.44 438.70L650.04 438.57L650.62 438.42L651.20 438.27L651.78 438.11L652.34 437.94L652.90 437.77L653.44 437.59L653.98 437.40L654.50 437.21L655.02 437.01L655.52 436.80L656.01 436.58L656.48 436.36L656.94 436.13L657.39 435.90L657.82 435.67L658.23 435.44L658.63 435.20L659.01 434.97L659.37 434.73L659.72 434.50L660.04 434.26L660.49 433.90L660.90 433.54L661.26 433.18L661.57 432.81L661.82 432.43L662.03 432.04L662.18 431.64L662.28 431.23L662.32 430.80L662.30 430.36L662.22 429.90L662.09 429.42L661.90 428.92L661.64 428.40L661.44 428.05L661.21 427.68L660.96 427.31L660.67 426.93L660.36 426.54L660.03 426.15L659.66 425.75L659.27 425.34L658.85 424.93L658.40 424.51L657.92 424.08L657.42 423.65L656.89 423.22L656.33 422.78L655.75 422.34L655.14 421.90L654.51 421.45L653.85 421.00L653.51 420.77L653.16 420.55L652.81 420.32L652.45 420.09L652.09 419.87L651.71 419.64L651.34 419.41L650.96 419.18L650.57 418.96L650.17 418.73L649.78 418.50L649.37 418.27L648.96 418.05L648.54 417.82L648.12 417.59L647.70 417.37L647.26 417.14L646.83 416.91L646.38 416.69L645.94 416.46L645.49 416.24L645.03 416.02L644.57 415.80L644.10 415.57L643.63 415.35L643.15 415.13L642.67 414.92L642.19 414.70L641.70 414.48L641.21 414.27L640.71 414.05L640.21 413.84L639.71 413.63L639.20 413.42L638.69 413.21L638.18 413.00L637.66 412.80L637.14 412.60L636.61 412.39L636.09 412.19L635.56 412.00L635.02 411.80L634.49 411.61L633.95 411.41L633.41 411.22L632.86 411.04L632.32 410.85L631.77 410.67L631.22 410.49L630.67 410.31L630.12 410.13L629.56 409.96L629.00 409.79L628.45 409.62L627.89 409.45L627.32 409.29L626.76 409.13L626.20 408.97L625.64 408.82L625.07 408.66L624.51 408.51L623.94 408.37L623.38 408.22L622.81 408.08L622.25 407.94L621.68 407.80L621.12 407.67L620.55 407.53L619.99 407.41L619.43 407.28L618.87 407.16L618.31 407.04L617.75 406.92L617.19 406.80L616.63 406.69L616.08 406.58L615.52 406.47L614.97 406.37L614.42 406.27L613.88 406.17L613.33 406.07L612.79 405.98L612.25 405.89L611.71 405.80L611.17 405.72L610.64 405.63L610.11 405.55L609.58 405.48L609.06 405.40L608.54 405.33L608.03 405.27L607.51 405.20L607.00 405.14L606.50 405.08L606.00 405.02L605.50 404.97L605.00 404.92L604.51 404.87L604.03 404.82L603.55 404.78L603.07 404.74L602.60 404.70L602.13 404.66L601.67 404.63L601.21 404.60L600.76 404.58L600.31 404.55L599.87 404.53L599.43 404.51L599.00 404.50L598.57 404.48L598.15 404.47L597.74 404.46L597.33 404.46L596.92 404.45L596.13 404.46L595.36 404.47L594.62 404.49L593.90 404.52L593.20 404.56L592.53 404.61L591.89 404.67L591.27 404.74L590.68 404.82L590.12 404.90L589.58 405.00L589.07 405.10L588.59 405.21L588.13 405.34L587.70 405.47L587.30 405.62L586.93 405.77L586.43 406.03L585.98 406.32L585.60 406.63L585.28 406.98L585.02 407.36L584.82 407.77L584.68 408.22L584.60 408.70L584.58 409.23L584.61 409.79L584.70 410.38L584.79 410.79L584.90 411.22L585.04 411.65L585.19 412.09L585.37 412.54L585.57 413.00L585.79 413.46L586.03 413.92L586.29 414.38L586.57 414.84L586.87 415.30L587.18 415.76L587.51 416.21L587.86 416.65L588.22 417.09L588.60 417.51L588.99 417.92L589.40 418.32L589.81 418.71L590.24 419.08L590.69 419.44L591.14 419.78L591.60 420.11L592.07 420.42L592.55 420.73L593.04 421.02L593.53 421.31L594.03 421.59L594.54 421.85L595.05 422.11L595.56 422.37L596.07 422.61L596.59 422.85L597.11 423.09L597.62 423.33L598.14 423.56L598.66 423.79L599.18 424.02L599.69 424.24L600.20 424.46L600.71 424.68L601.22 424.90L601.73 425.11L602.23 425.32L602.73 425.52L603.22 425.73L603.71 425.92L604.20 426.12L604.68 426.31L605.16 426.50L605.63 426.68L606.09 426.87L606.55 427.04L607.01 427.22L607.44 427.39L607.86 427.55L608.28 427.72L608.69 427.88L609.09 428.03L609.50 428.18L609.89 428.33L610.29 428.48L610.68 428.62L611.06 428.76L611.44 428.90L612.00 429.10L612.56 429.29L613.10 429.48L613.64 429.66L614.18 429.84L614.71 430.01L615.23 430.17L615.75 430.33L616.26 430.49L616.77 430.63L617.28 430.78L617.79 430.92L618.30 431.05L618.81 431.18L619.31 431.30L619.82 431.42L620.34 431.54L620.85 431.64L621.37 431.75L621.89 431.85L622.41 431.94L622.94 432.03L623.47 432.11L624.01 432.19L624.55 432.27L625.09 432.34L625.64 432.40L626.20 432.46L626.76 432.52L627.32 432.57L627.89 432.62L628.46 432.66L629.04 432.69L629.62 432.72L630.20 432.75L630.78 432.77L631.36 432.78L631.94 432.79L632.52 432.79L633.09 432.78L633.67 432.77L634.24 432.76L634.80 432.73L635.35 432.70L635.90 432.66L636.44 432.61L636.97 432.56L637.49 432.50L637.99 432.43L638.48 432.35L638.95 432.26L639.40 432.17L639.84 432.06L640.26 431.95L640.65 431.82L641.14 431.64L641.58 431.44L641.98 431.22L642.32 430.99L642.68 430.66L642.95 430.31L643.13 429.93L643.21 429.51L643.19 429.06L643.07 428.58L642.90 428.17L642.66 427.75L642.43 427.42L642.17 427.07L641.87 426.72L641.53 426.37L641.15 426.00L640.73 425.62L640.28 425.24L639.95 424.98L639.61 424.72L639.26 424.46L638.89 424.19L638.50 423.93L638.10 423.66L637.68 423.38L637.25 423.11L636.81 422.83L636.35 422.56L635.87 422.28L635.38 422.00L634.88 421.72L634.37 421.44L633.85 421.16L633.31 420.88L632.76 420.60L632.20 420.32L631.64 420.04L631.06 419.76L630.47 419.49L629.87 419.21L629.26 418.94L628.65 418.66L628.03 418.39L627.40 418.12L626.77 417.85L626.13 417.59L625.48 417.33L624.83 417.07L624.18 416.81L623.52 416.56L622.86 416.31L622.20 416.07L621.53 415.83L620.86 415.59L620.20 415.36L619.53 415.13L618.86 414.90L618.20 414.68L617.53 414.47L616.87 414.26L616.21 414.06L615.55 413.86L614.90 413.67L614.25 413.49L613.61 413.31L612.97 413.13L612.34 412.97L611.71 412.81L611.09 412.66L610.48 412.51L609.87 412.37L609.28 412.24L608.69 412.12L608.11 412.00L607.54 411.89L606.98 411.79L606.44 411.69L605.90 411.61L605.37 411.53L604.85 411.46L604.35 411.40L603.86 411.35L603.38 411.30L602.91 411.26L602.46 411.24L602.02 411.22L601.59 411.21L601.18 411.20L600.59 411.22L600.03 411.25L599.50 411.30L599.00 411.37L598.54 411.46L598.11 411.58L597.72 411.71L597.25 411.91L596.84 412.15L596.49 412.43L596.20 412.74L595.98 413.08L595.81 413.45L595.71 413.86L595.67 414.30L595.68 414.77L595.75 415.24L595.88 415.72L596.05 416.18L596.27 416.61L596.53 417.02L596.84 417.40L597.18 417.76L597.55 418.11L597.96 418.44L598.28 418.68L598.61 418.91L598.96 419.15L599.32 419.38L599.69 419.61L600.06 419.84L600.45 420.08L600.83 420.32L601.23 420.56L601.63 420.81L602.03 421.06L602.43 421.30L602.84 421.55L603.25 421.80L603.66 422.05L604.07 422.30L604.48 422.55L604.90 422.80L605.31 423.05L605.72 423.29L606.13 423.53L606.54 423.77L606.94 424.01L607.35 424.24L607.75 424.47L608.15 424.70L608.55 424.92L608.94 425.14L609.34 425.35L609.73 425.56L610.12 425.77L610.50 425.97L610.89 426.17L611.27 426.36L611.65 426.54L612.02 426.72L612.40 426.90L612.77 427.07L613.15 427.23L613.52 427.39L613.89 427.54L614.38 427.74L614.87 427.92L615.37 428.10L615.86 428.27L616.35 428.42L616.84 428.57L617.33 428.70L617.83 428.83L618.33 428.94L618.83 429.05L619.33 429.14L619.83 429.23L620.34 429.30L620.85 429.37L621.36 429.42L621.87 429.47L622.39 429.50L622.90 429.53L623.42 429.55L623.94 429.56L624.46 429.55L624.97 429.54L625.49 429.52L626.00 429.49L626.50 429.45L627.00 429.39L627.48 429.33L627.96 429.26L628.42 429.18L628.86 429.09L629.29 428.99L629.70 428.88L630.09 428.76L630.54 428.60L630.95 428.42L631.32 428.22L631.69 427.97L632.00 427.69L632.26 427.34L632.40 426.96L632.42 426.55L632.31 426.12L632.12 425.73L631.88 425.39L631.59 425.04L631.30 424.75L630.97 424.46L630.61 424.16L630.21 423.86L629.76 423.56L629.41 423.33L629.04 423.10L628.64 422.87L628.23 422.63L627.80 422.40L627.35 422.17L626.89 421.94L626.41 421.71L625.91 421.48L625.40 421.25L624.88 421.02L624.34 420.80L623.80 420.57L623.24 420.35L622.87 420.21L622.49 420.06L622.10 419.92L621.71 419.78L621.32 419.64L620.93 419.51L620.54 419.37L620.14 419.24L619.74 419.11L619.34 418.98L618.93 418.85L618.53 418.73L618.13 418.60L617.72 418.49L617.32 418.37L616.91 418.25L616.51 418.14L616.11 418.04L615.71 417.93L615.31 417.83L614.91 417.73L614.51 417.63L614.12 417.54L613.73 417.45L613.14 417.32L612.57 417.20L612.00 417.08L611.44 416.98L610.89 416.88L610.36 416.79L609.83 416.71L609.32 416.64L608.81 416.58L608.33 416.52L607.85 416.48L607.39 416.44L606.95 416.41L606.52 416.39L606.10 416.38L605.58 416.38L605.08 416.40L604.62 416.43L604.19 416.47L603.79 416.54L603.34 416.64L602.94 416.76L602.53 416.94L602.14 417.18L601.86 417.47L601.65 417.84L601.58 418.26L601.61 418.66L601.72 419.09L601.88 419.48L602.10 419.87L602.32 420.21L602.57 420.56L602.85 420.91L603.17 421.27L603.50 421.63L603.79 421.92L604.09 422.21L604.41 422.49L604.74 422.78L605.08 423.06L605.42 423.35L605.78 423.63L606.15 423.90L606.53 424.18L606.91 424.44L607.30 424.71L607.69 424.97L608.09 425.22L608.49 425.47L608.90 425.71L609.31 425.94L609.72 426.17L610.13 426.39L610.55 426.60L610.97 426.80L611.38 427.00L611.80 427.19L612.22 427.37L612.64 427.54L613.06 427.70L613.47 427.86L613.89 428.00L614.30 428.14L614.72 428.27L615.13 428.38L615.54 428.49L615.94 428.59L616.34 428.67L616.74 428.74L617.22 428.82L617.70 428.88L618.16 428.93L618.62 428.96L619.06 428.98L619.49 428.98L619.91 428.96L620.31 428.93L620.77 428.88L621.21 428.81L621.62 428.72L622.01 428.61L622.43 428.45L622.80 428.28L623.17 428.06L623.51 427.77L623.77 427.46L623.95 427.09L624.02 426.69L623.97 426.27L623.83 425.88L623.63 425.53L623.36 425.18L623.06 424.87L622.76 424.60L622.41 424.33L622.03 424.06L621.68 423.84L621.30 423.61L620.91 423.39L620.49 423.17L620.05 422.95L619.68 422.78L619.30 422.62L618.92 422.45L618.52 422.29L618.12 422.14L617.71 421.99L617.30 421.84L616.88 421.70L616.46 421.56L616.04 421.43L615.62 421.31L615.20 421.19L614.78 421.08L614.36 420.98L613.95 420.88L613.54 420.79L613.14 420.71L612.74 420.64L612.26 420.56L611.79 420.49L611.34 420.44L610.91 420.39L610.49 420.37L610.02 420.35L609.59 420.35L609.18 420.37L608.75 420.42L608.33 420.50L607.93 420.64L607.56 420.85L607.28 421.16L607.17 421.56L607.24 421.99L607.41 422.37L607.65 422.74L607.92 423.07L608.21 423.38L608.53 423.68L608.83 423.94L609.16 424.20L609.51 424.45L609.87 424.70L610.24 424.93L610.63 425.16L611.03 425.38L611.43 425.58L611.84 425.78L612.25 425.96L612.67 426.12L613.09 426.28L613.51 426.41L613.92 426.54L614.34 426.65L614.75 426.74L615.15 426.81L615.55 426.88L616.00 426.93L616.43 426.96L616.85 426.97L617.26 426.97L617.69 426.94L618.09 426.89L618.50 426.80L618.90 426.68L619.26 426.52L619.58 426.28L619.81 425.94L619.84 425.53L619.68 425.15L619.42 424.81L619.11 424.51L618.75 424.24L618.38 424.00L618.02 423.78L617.62 423.57L617.25 423.40L616.87 423.23L616.47 423.06L616.05 422.91L615.63 422.76L615.21 422.62L614.78 422.50L614.35 422.38L613.93 422.28L613.52 422.20L613.12 422.12L612.68 422.06L612.27 422.01L611.83 421.98L611.39 421.97L610.96 422.00L610.55 422.09L610.17 422.25L609.91 422.57L609.93 422.98L610.11 423.34L610.37 423.67L610.67 423.96L610.99 424.23L611.32 424.46L611.67 424.69L612.04 424.90L612.43 425.09L612.83 425.27L613.23 425.43L613.64 425.56L614.04 425.68L614.44 425.77L614.86 425.85L615.27 425.89L615.69 425.91L616.11 425.90L616.51 425.85L616.91 425.74L617.26 425.54L617.44 425.18L617.32 424.80L617.05 424.49L616.72 424.23L616.36 424.01L615.98 423.81L615.60 423.64L615.22 423.49L614.84 423.36L614.45 423.24L614.06 423.14L613.65 423.05L613.22 422.98L612.81 422.94L612.39 422.93L611.98 422.99L611.62 423.19L611.59 423.59L611.81 423.92L612.11 424.20L612.44 424.44L612.80 424.65L613.16 424.82L613.54 424.97L613.94 425.10L614.33 425.19L614.74 425.25L615.16 425.26L615.57 425.21L615.93 425.03L615.97 424.63L615.69 424.33L615.34 424.10L614.97 423.93L614.59 423.78L614.20 423.66L613.79 423.56L613.38 423.51L612.97 423.50L612.60 423.64L612.67 424.04L612.97 424.31L613.31 424.52L613.69 424.69L614.07 424.80L614.47 424.86L614.87 424.85L615.19 424.61L614.95 424.29L614.60 424.09L614.22 423.95L613.82 423.86L613.42 423.83L613.25 424.19L613.58 424.43L613.96 424.58L614.36 424.64L614.53 424.27L614.16 424.10L613.77 424.02L613.85 424.42L614.24 424.50L614.02 424.16" stroke="#2f4fa0" stroke-width="2.1" fill="none" stroke-linejoin="round" stroke-linecap="round"/>
<g font-family='"Liberation Sans", sans-serif' fill="#231f20">
<text x="435.68" y="385.00" font-size="22">0.</text>
<path transform="translate(454.03,385.00) scale(22)" d="M0.372,0L0.290,0L0.290,-0.505C0.235,-0.482 0.170,-0.475 0.112,-0.475L0.112,-0.540C0.205,-0.548 0.270,-0.598 0.300,-0.675L0.372,-0.675Z"/>
<text x="466.26" y="385.00" font-size="22">2</text>
<text x="447.92" y="423.00" font-size="22">0.</text>
<path transform="translate(466.26,423.00) scale(22)" d="M0.372,0L0.290,0L0.290,-0.505C0.235,-0.482 0.170,-0.475 0.112,-0.475L0.112,-0.540C0.205,-0.548 0.270,-0.598 0.300,-0.675L0.372,-0.675Z"/>
<text x="478.50" y="461.00" text-anchor="end" font-size="22" >0.08</text>
<text x="515.80" y="528.00" text-anchor="middle" font-size="22" >0.4</text>
<text x="569.50" y="572.00" text-anchor="middle" font-size="22" >0.2</text>
<text x="608.40" y="576.00" text-anchor="middle" font-size="22" >0</text>
<text x="698.90" y="546.00" text-anchor="middle" font-size="22" >0.2</text>
<text x="780.30" y="517.00" text-anchor="middle" font-size="22" >0.4</text>
<text x="515.5" y="565" font-size="22">x</text><text x="525.8" y="576" font-size="17.5">2</text>
<text x="666.5" y="573" font-size="22">x</text>
<path transform="translate(677.40,583.40) scale(17.5)" d="M0.372,0L0.290,0L0.290,-0.505C0.235,-0.482 0.170,-0.475 0.112,-0.475L0.112,-0.540C0.205,-0.548 0.270,-0.598 0.300,-0.675L0.372,-0.675Z"/>
<g transform="translate(412.50,422.80) rotate(-90)">
<text x="-10.37" y="0" font-size="22">x</text>
<text x="0.63" y="10.9" font-size="17.5">3</text>
</g>
</g>
</svg>
</body></html>
